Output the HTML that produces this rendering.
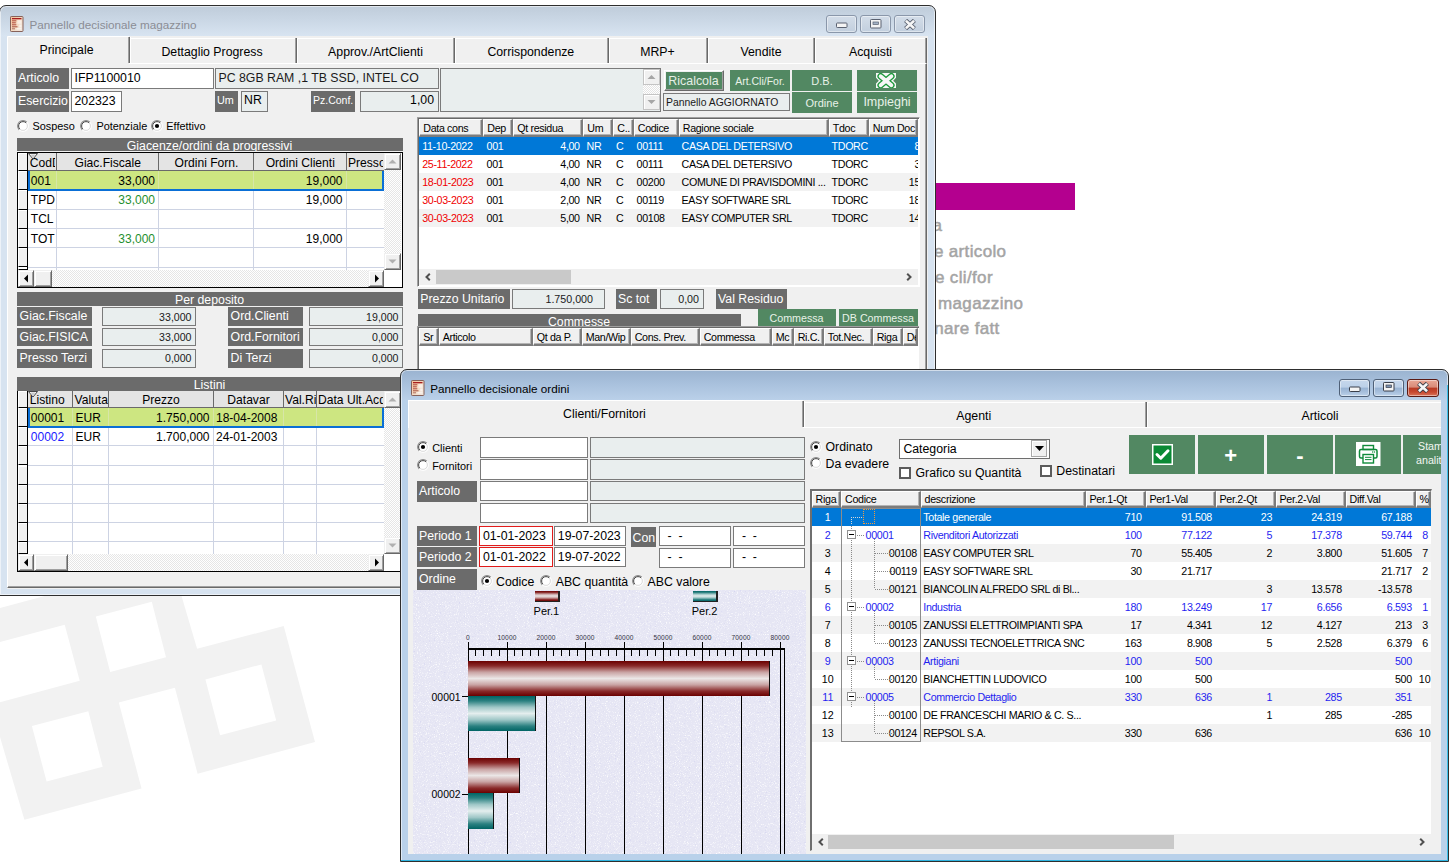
<!DOCTYPE html>
<html><head><meta charset="utf-8"><style>
html,body{margin:0;padding:0;}
body{width:1451px;height:865px;position:relative;overflow:hidden;background:#fff;font-family:"Liberation Sans", sans-serif;}
div{position:absolute;box-sizing:border-box;}
svg{position:absolute;}
</style></head><body>
<svg style="left:0;top:0" width="1451" height="865" viewBox="0 0 1451 865"><path fill="#f2f2f2" fill-rule="evenodd" d="M-83.3,630.4 L171.5,561.9 L197.1,648.8 L283.7,626.1 L315.0,742.1 L197.6,773.7 L174.9,687.7 L118.8,702.4 L141.5,788.4 L24.4,819.8 L-27.8,642.7 Z M-55.5,656.9 L64.7,624.7 L79.7,680.8 L-55.5,717.1 Z M95.8,616.4 L151.8,601.7 L166.0,657.2 L110.2,671.9 Z M31.9,726.0 L88.3,711.3 L102.7,766.8 L46.6,781.5 Z M205.4,679.4 L261.4,664.4 L276.2,720.4 L220.1,735.2 Z"/></svg><div style="left:900px;top:183px;width:175px;height:27px;background:#b4008f"></div><div style="left:42.4px;top:214px;width:900px;height:24px;line-height:24px;font-size:17px;color:#a4a4a4;text-align:right;white-space:pre;font-weight:400;letter-spacing:0.35px;-webkit-text-stroke:0.5px #a4a4a4">Stampa</div><div style="left:106.4px;top:240px;width:900px;height:24px;line-height:24px;font-size:17px;color:#a4a4a4;text-align:right;white-space:pre;font-weight:400;letter-spacing:0.35px;-webkit-text-stroke:0.5px #a4a4a4">Situazione articolo</div><div style="left:92.9px;top:266px;width:900px;height:24px;line-height:24px;font-size:17px;color:#a4a4a4;text-align:right;white-space:pre;font-weight:400;letter-spacing:0.35px;-webkit-text-stroke:0.5px #a4a4a4">Situazione cli/for</div><div style="left:123.4px;top:292px;width:900px;height:24px;line-height:24px;font-size:17px;color:#a4a4a4;text-align:right;white-space:pre;font-weight:400;letter-spacing:0.35px;-webkit-text-stroke:0.5px #a4a4a4">Riordino magazzino</div><div style="left:99.7px;top:317px;width:900px;height:24px;line-height:24px;font-size:17px;color:#a4a4a4;text-align:right;white-space:pre;font-weight:400;letter-spacing:0.35px;-webkit-text-stroke:0.5px #a4a4a4">Selezionare fatt</div><div style="left:-1px;top:5px;width:937px;height:591px;background:linear-gradient(#bfccda 0px, #cad7e5 14px, #d8e4f1 30px, #d7e3f0 31px, #d7e3f0 100%);border:1px solid #2e2e2e;border-radius:7px 7px 0 0;box-shadow:inset 0 0 0 1px rgba(255,255,255,0.55)"></div><svg style="left:10px;top:16px" width="14" height="16" viewBox="0 0 14 16"><defs><linearGradient id="ig" x1="0" y1="0" x2="1" y2="1"><stop offset="0" stop-color="#f6c096"/><stop offset="0.6" stop-color="#f3dcc8"/><stop offset="1" stop-color="#efe6e0"/></linearGradient></defs><rect x="0.5" y="0.5" width="12.5" height="15" rx="0.8" fill="url(#ig)" stroke="#86625a" stroke-width="1"/><rect x="2" y="2" width="9.5" height="1.3" fill="#a81e1e"/><rect x="2" y="4.3" width="4.3" height="1" fill="#b04a3c"/><rect x="2" y="6.3" width="3.8" height="1" fill="#b04a3c"/><rect x="2" y="8.3" width="4.3" height="1" fill="#b04a3c"/><rect x="2" y="10.3" width="5.5" height="1" fill="#a8503c"/><rect x="2" y="12.3" width="3" height="1" fill="#b07060"/><rect x="7.3" y="4.2" width="4.2" height="3.6" fill="#fff" opacity="0.55"/><rect x="9.2" y="8.5" width="2.3" height="3" fill="#fff" opacity="0.55"/><rect x="6.5" y="12.2" width="5" height="1.2" fill="#fff" opacity="0.7"/></svg><div style="left:29.5px;top:17px;width:900px;height:16px;line-height:16px;font-size:11.7px;color:#8b8d95;text-align:left;white-space:pre;font-weight:400;">Pannello decisionale magazzino</div><div style="left:826px;top:15px;width:31px;height:18px;background:linear-gradient(#d3dde9 0%, #cbd6e3 50%, #c2cfdf 100%);border:1px solid #8a97aa;border-radius:3px;box-shadow:inset 0 0 0 1px rgba(255,255,255,0.45)"></div><svg style="left:835.5px;top:22.0px" width="12" height="7" viewBox="0 0 12 7"><rect x="0.5" y="1" width="10.5" height="4.5" rx="0.8" fill="#f4f4f4" stroke="#5a6170" stroke-width="1"/></svg><div style="left:860px;top:15px;width:31px;height:18px;background:linear-gradient(#d3dde9 0%, #cbd6e3 50%, #c2cfdf 100%);border:1px solid #8a97aa;border-radius:3px;box-shadow:inset 0 0 0 1px rgba(255,255,255,0.45)"></div><svg style="left:869.5px;top:18.5px" width="12" height="10" viewBox="0 0 12 10"><rect x="0.5" y="0.5" width="10.5" height="8.5" rx="0.8" fill="#f4f4f4" stroke="#5a6170" stroke-width="1"/><rect x="3" y="3" width="5.5" height="2.6" fill="#a4b2c6" stroke="#5a6170" stroke-width="0.7"/></svg><div style="left:894px;top:15px;width:31px;height:18px;background:linear-gradient(#d3dde9 0%, #cbd6e3 50%, #c2cfdf 100%);border:1px solid #8a97aa;border-radius:3px;box-shadow:inset 0 0 0 1px rgba(255,255,255,0.45)"></div><svg style="left:902.5px;top:18.5px" width="14" height="11" viewBox="0 0 14 11"><path d="M2.6,1.4 L11.4,9.6 M11.4,1.4 L2.6,9.6" stroke="#5a6170" stroke-width="4.4" stroke-linecap="butt"/><path d="M2.9,1.7 L11.1,9.3 M11.1,1.7 L2.9,9.3" stroke="#f6f6f6" stroke-width="2.6" stroke-linecap="butt"/></svg><div style="left:7px;top:36px;width:921px;height:553px;background:#f0f0f0"></div><div style="left:7px;top:63px;width:920px;height:525px;border-top:1px solid #fff;border-left:1px solid #fff;border-right:1px solid #696969;border-bottom:1px solid #696969;box-shadow:inset -1px -1px 0 #a0a0a0"></div><div style="left:7px;top:36px;width:122px;height:28px;background:#f0f0f0;border-top:1px solid #fff;border-left:1px solid #fff;border-radius:2px 0 0 0"></div><div style="left:129px;top:38px;width:797px;height:25px;border-top:1px solid #fff"></div><div style="left:128px;top:37px;width:1px;height:26px;background:#a0a0a0"></div><div style="left:129px;top:37px;width:1px;height:26px;background:#696969"></div><div style="left:130px;top:37px;width:1px;height:26px;background:#fff"></div><div style="left:295px;top:38px;width:1px;height:25px;background:#a0a0a0"></div><div style="left:296px;top:38px;width:1px;height:25px;background:#696969"></div><div style="left:297px;top:38px;width:1px;height:25px;background:#fff"></div><div style="left:453px;top:38px;width:1px;height:25px;background:#a0a0a0"></div><div style="left:454px;top:38px;width:1px;height:25px;background:#696969"></div><div style="left:455px;top:38px;width:1px;height:25px;background:#fff"></div><div style="left:607px;top:38px;width:1px;height:25px;background:#a0a0a0"></div><div style="left:608px;top:38px;width:1px;height:25px;background:#696969"></div><div style="left:609px;top:38px;width:1px;height:25px;background:#fff"></div><div style="left:706px;top:38px;width:1px;height:25px;background:#a0a0a0"></div><div style="left:707px;top:38px;width:1px;height:25px;background:#696969"></div><div style="left:708px;top:38px;width:1px;height:25px;background:#fff"></div><div style="left:813px;top:38px;width:1px;height:25px;background:#a0a0a0"></div><div style="left:814px;top:38px;width:1px;height:25px;background:#696969"></div><div style="left:815px;top:38px;width:1px;height:25px;background:#fff"></div><div style="left:925px;top:38px;width:1px;height:25px;background:#a0a0a0"></div><div style="left:926px;top:38px;width:1px;height:25px;background:#696969"></div><div style="left:-383.5px;top:42px;width:900px;height:17px;line-height:17px;font-size:12.3px;color:#000;text-align:center;white-space:pre;font-weight:400;">Principale</div><div style="left:-238.0px;top:44px;width:900px;height:17px;line-height:17px;font-size:12.3px;color:#000;text-align:center;white-space:pre;font-weight:400;">Dettaglio Progress</div><div style="left:-74.5px;top:44px;width:900px;height:17px;line-height:17px;font-size:12.3px;color:#000;text-align:center;white-space:pre;font-weight:400;">Approv./ArtClienti</div><div style="left:80.8px;top:44px;width:900px;height:17px;line-height:17px;font-size:12.3px;color:#000;text-align:center;white-space:pre;font-weight:400;">Corrispondenze</div><div style="left:207.5px;top:44px;width:900px;height:17px;line-height:17px;font-size:12.3px;color:#000;text-align:center;white-space:pre;font-weight:400;">MRP+</div><div style="left:311.0px;top:44px;width:900px;height:17px;line-height:17px;font-size:12.3px;color:#000;text-align:center;white-space:pre;font-weight:400;">Vendite</div><div style="left:420.5px;top:44px;width:900px;height:17px;line-height:17px;font-size:12.3px;color:#000;text-align:center;white-space:pre;font-weight:400;">Acquisti</div><div style="left:16px;top:68px;width:53px;height:21px;background:#6b6b6b"></div><div style="left:18px;top:70px;width:900px;height:17px;line-height:17px;font-size:12.3px;color:#fff;text-align:left;white-space:pre;font-weight:400;">Articolo</div><div style="left:71px;top:68px;width:143px;height:21px;background:#fff;border:1px solid #7a7a7a"></div><div style="left:74.5px;top:70px;width:900px;height:17px;line-height:17px;font-size:12.3px;color:#000;text-align:left;white-space:pre;font-weight:400;">IFP1100010</div><div style="left:215px;top:68px;width:224px;height:21px;background:#e9eeee;border:1px solid #7a7a7a"></div><div style="left:218.5px;top:70px;width:900px;height:17px;line-height:17px;font-size:12.3px;color:#1a1a1a;text-align:left;white-space:pre;font-weight:400;">PC 8GB RAM ,1 TB SSD, INTEL CO</div><div style="left:16px;top:91px;width:53px;height:21px;background:#6b6b6b"></div><div style="left:18px;top:93px;width:900px;height:17px;line-height:17px;font-size:12.3px;color:#fff;text-align:left;white-space:pre;font-weight:400;">Esercizio</div><div style="left:71px;top:91px;width:51px;height:21px;background:#fff;border:1px solid #7a7a7a"></div><div style="left:74.5px;top:93px;width:900px;height:17px;line-height:17px;font-size:12.3px;color:#000;text-align:left;white-space:pre;font-weight:400;">202323</div><div style="left:215px;top:91px;width:23px;height:21px;background:#6b6b6b"></div><div style="left:217px;top:93px;width:900px;height:15px;line-height:15px;font-size:10.8px;color:#fff;text-align:left;white-space:pre;font-weight:400;">Um</div><div style="left:241px;top:91px;width:27px;height:21px;background:#e9eeee;border:1px solid #7a7a7a"></div><div style="left:244px;top:92px;width:900px;height:17px;line-height:17px;font-size:12.3px;color:#000;text-align:left;white-space:pre;font-weight:400;">NR</div><div style="left:311px;top:91px;width:44px;height:21px;background:#6b6b6b"></div><div style="left:313px;top:93px;width:900px;height:15px;line-height:15px;font-size:10.5px;color:#fff;text-align:left;white-space:pre;font-weight:400;">Pz.Conf.</div><div style="left:360px;top:91px;width:79px;height:21px;background:#e9eeee;border:1px solid #7a7a7a"></div><div style="left:-466px;top:92px;width:900px;height:17px;line-height:17px;font-size:12.3px;color:#000;text-align:right;white-space:pre;font-weight:400;">1,00</div><div style="left:440px;top:68px;width:221px;height:44px;background:#e9eeee;border:1px solid #7a7a7a"></div><div style="left:643px;top:85px;width:17px;height:9px;background-color:#f4f4f4;background-image:repeating-conic-gradient(#fff 0 25%, #e4e4e4 0 50%);background-size:2px 2px"></div><div style="left:643px;top:69px;width:17px;height:16px;background:#f0f0f0;border:1px solid #c4c4c4;box-shadow:inset 1px 1px 0 #fff"></div><div style="left:643px;top:94px;width:17px;height:16px;background:#f0f0f0;border:1px solid #c4c4c4;box-shadow:inset 1px 1px 0 #fff"></div><svg style="left:647px;top:74px" width="9" height="6"><path d="M0.5,5 L4.5,1 L8.5,5 Z" fill="#a6a6a6"/></svg><svg style="left:647px;top:99px" width="9" height="6"><path d="M0.5,1 L4.5,5 L8.5,1 Z" fill="#a6a6a6"/></svg><div style="left:664px;top:70px;width:60px;height:20.5px;background:#528862;border-top:1px solid #fff;border-left:1px solid #fff;border-right:1px solid #6a6a6a;border-bottom:1px solid #6a6a6a;box-shadow:inset -1px -1px 0 #a0a0a0, inset 1px 1px 0 #f0f0f0"></div><div style="left:243.5px;top:73px;width:900px;height:17px;line-height:17px;font-size:12.4px;color:#e6efe6;text-align:center;white-space:pre;font-weight:400;">Ricalcola</div><div style="left:730px;top:70px;width:60px;height:20.5px;background:#528862"></div><div style="left:310.0px;top:74px;width:900px;height:15px;line-height:15px;font-size:10.5px;color:#e8f2e8;text-align:center;white-space:pre;font-weight:400;">Art.Cli/For.</div><div style="left:792px;top:70px;width:60px;height:20.5px;background:#528862"></div><div style="left:372.0px;top:74px;width:900px;height:15px;line-height:15px;font-size:11px;color:#e8f2e8;text-align:center;white-space:pre;font-weight:400;">D.B.</div><div style="left:857px;top:70px;width:60px;height:20.5px;background:#528862"></div><svg style="left:876px;top:72.8px" width="20" height="15.5" viewBox="0 0 20 15.5"><path d="M0,0 L20,0 L20,4.8 L17.2,7.7 L20,10.6 L20,15.5 L0,15.5 L0,10.6 L2.8,7.7 L0,4.8 Z" fill="#f6f6f6"/><path d="M4.6,3.2 L15.4,12.3 M15.4,3.2 L4.6,12.3" stroke="#1c9a3c" stroke-width="6.4" stroke-linecap="round"/><path d="M4.6,3.2 L15.4,12.3 M15.4,3.2 L4.6,12.3" stroke="#f6f6f6" stroke-width="3.8" stroke-linecap="round"/></svg><div style="left:663px;top:93px;width:126.5px;height:18px;background:#e9eeee;border:1px solid #7a7a7a"></div><div style="left:666px;top:95px;width:900px;height:15px;line-height:15px;font-size:10.4px;color:#1a1a1a;text-align:left;white-space:pre;font-weight:400;">Pannello AGGIORNATO</div><div style="left:792px;top:92px;width:60px;height:20.5px;background:#528862"></div><div style="left:372.0px;top:96px;width:900px;height:15px;line-height:15px;font-size:11px;color:#e8f2e8;text-align:center;white-space:pre;font-weight:400;">Ordine</div><div style="left:857px;top:92px;width:60px;height:20.5px;background:#528862"></div><div style="left:437.0px;top:93px;width:900px;height:18px;line-height:18px;font-size:12.5px;color:#e8f2e8;text-align:center;white-space:pre;font-weight:400;">Impieghi</div><svg style="left:16.7px;top:120px" width="12" height="12" viewBox="0 0 12 12"><circle cx="6" cy="6" r="4.5" fill="#fff"/><path d="M2.18166,9.81834 A5.4,5.4 0 0 1 9.81834,2.18166" fill="none" stroke="#8a8a8a" stroke-width="1.1"/><path d="M9.81834,2.18166 A5.4,5.4 0 0 1 2.18166,9.81834" fill="none" stroke="#fdfdfd" stroke-width="1.1"/><path d="M2.88876,9.11124 A4.4,4.4 0 0 1 9.11124,2.88876" fill="none" stroke="#4a4a4a" stroke-width="1.0"/><path d="M9.11124,2.88876 A4.4,4.4 0 0 1 2.88876,9.11124" fill="none" stroke="#dcdcdc" stroke-width="1.0"/></svg><div style="left:32.4px;top:119px;width:900px;height:15px;line-height:15px;font-size:10.9px;color:#000;text-align:left;white-space:pre;font-weight:400;">Sospeso</div><svg style="left:80.4px;top:120px" width="12" height="12" viewBox="0 0 12 12"><circle cx="6" cy="6" r="4.5" fill="#fff"/><path d="M2.18166,9.81834 A5.4,5.4 0 0 1 9.81834,2.18166" fill="none" stroke="#8a8a8a" stroke-width="1.1"/><path d="M9.81834,2.18166 A5.4,5.4 0 0 1 2.18166,9.81834" fill="none" stroke="#fdfdfd" stroke-width="1.1"/><path d="M2.88876,9.11124 A4.4,4.4 0 0 1 9.11124,2.88876" fill="none" stroke="#4a4a4a" stroke-width="1.0"/><path d="M9.11124,2.88876 A4.4,4.4 0 0 1 2.88876,9.11124" fill="none" stroke="#dcdcdc" stroke-width="1.0"/></svg><div style="left:96.4px;top:119px;width:900px;height:15px;line-height:15px;font-size:10.9px;color:#000;text-align:left;white-space:pre;font-weight:400;">Potenziale</div><svg style="left:150.6px;top:120px" width="12" height="12" viewBox="0 0 12 12"><circle cx="6" cy="6" r="4.5" fill="#fff"/><path d="M2.18166,9.81834 A5.4,5.4 0 0 1 9.81834,2.18166" fill="none" stroke="#8a8a8a" stroke-width="1.1"/><path d="M9.81834,2.18166 A5.4,5.4 0 0 1 2.18166,9.81834" fill="none" stroke="#fdfdfd" stroke-width="1.1"/><path d="M2.88876,9.11124 A4.4,4.4 0 0 1 9.11124,2.88876" fill="none" stroke="#4a4a4a" stroke-width="1.0"/><path d="M9.11124,2.88876 A4.4,4.4 0 0 1 2.88876,9.11124" fill="none" stroke="#dcdcdc" stroke-width="1.0"/><circle cx="6" cy="6" r="2.1" fill="#000"/></svg><div style="left:166.3px;top:119px;width:900px;height:15px;line-height:15px;font-size:10.9px;color:#000;text-align:left;white-space:pre;font-weight:400;">Effettivo</div><div style="left:17px;top:138px;width:386px;height:12.7px;background:#6b6b6b"></div><div style="left:19px;top:137px;width:900px;height:17px;line-height:17px;font-size:12.3px;color:#fff;text-align:left;white-space:pre;font-weight:400;"></div><div style="left:17px;top:138px;width:386px;height:12.7px;overflow:hidden"><div style="left:-257.5px;top:0px;width:900px;height:17px;line-height:17px;font-size:12.3px;color:#fff;text-align:center;white-space:pre;font-weight:400;">Giacenze/ordini da progressivi</div></div><div style="left:17px;top:152px;width:386px;height:136px;background:#fff;border:1px solid #000"></div><div style="left:28.3px;top:153px;width:355.7px;height:18px;background:#e4e4e4"></div><div style="left:55.5px;top:153px;width:1px;height:18px;background:#6a6a6a"></div><div style="left:158px;top:153px;width:1px;height:18px;background:#6a6a6a"></div><div style="left:253px;top:153px;width:1px;height:18px;background:#6a6a6a"></div><div style="left:345.5px;top:153px;width:1px;height:18px;background:#6a6a6a"></div><div style="left:28.3px;top:170px;width:355.7px;height:1px;background:#6a6a6a"></div><div style="left:18px;top:153px;width:9.3px;height:18px;background:#f0f0f0;border-top:1px solid #fff;border-left:1px solid #fff;border-bottom:1px solid #000"></div><div style="left:27.3px;top:153px;width:1px;height:117px;background:#000"></div><div style="left:18px;top:171px;width:9.3px;height:19.30000000000001px;background:#f0f0f0;border-top:1px solid #fff;border-left:1px solid #fff;border-bottom:1px solid #000"></div><div style="left:18px;top:190.3px;width:9.3px;height:19.299999999999983px;background:#f0f0f0;border-top:1px solid #fff;border-left:1px solid #fff;border-bottom:1px solid #000"></div><div style="left:18px;top:209.6px;width:9.3px;height:19.30000000000001px;background:#f0f0f0;border-top:1px solid #fff;border-left:1px solid #fff;border-bottom:1px solid #000"></div><div style="left:18px;top:228.9px;width:9.3px;height:19.299999999999983px;background:#f0f0f0;border-top:1px solid #fff;border-left:1px solid #fff;border-bottom:1px solid #000"></div><div style="left:18px;top:248.2px;width:9.3px;height:19.30000000000001px;background:#f0f0f0;border-top:1px solid #fff;border-left:1px solid #fff;border-bottom:1px solid #000"></div><div style="left:18px;top:267.5px;width:9.3px;height:2.5px;background:#f0f0f0;border-top:1px solid #fff;border-left:1px solid #fff;border-bottom:1px solid #000"></div><div style="left:55.5px;top:171px;width:1px;height:99px;background:#cdd3e3"></div><div style="left:158px;top:171px;width:1px;height:99px;background:#cdd3e3"></div><div style="left:253px;top:171px;width:1px;height:99px;background:#cdd3e3"></div><div style="left:345.5px;top:171px;width:1px;height:99px;background:#cdd3e3"></div><div style="left:28.3px;top:189.3px;width:355.7px;height:1px;background:#cdd3e3"></div><div style="left:28.3px;top:208.6px;width:355.7px;height:1px;background:#cdd3e3"></div><div style="left:28.3px;top:227.9px;width:355.7px;height:1px;background:#cdd3e3"></div><div style="left:28.3px;top:247.2px;width:355.7px;height:1px;background:#cdd3e3"></div><div style="left:28.3px;top:266.5px;width:355.7px;height:1px;background:#cdd3e3"></div><div style="left:28.3px;top:171px;width:355.7px;height:20.30000000000001px;background:#cde681;border:2px solid #0a6fd6;border-top:none"></div><div style="left:55.5px;top:171px;width:1px;height:18.30000000000001px;background:#d7e6a8"></div><div style="left:158px;top:171px;width:1px;height:18.30000000000001px;background:#d7e6a8"></div><div style="left:253px;top:171px;width:1px;height:18.30000000000001px;background:#d7e6a8"></div><div style="left:345.5px;top:171px;width:1px;height:18.30000000000001px;background:#d7e6a8"></div><div style="left:28.3px;top:153px;width:27.2px;height:17px;overflow:hidden"><div style="left:1.5px;top:2px;width:900px;height:17px;line-height:17px;font-size:12.1px;color:#000;text-align:left;white-space:pre;font-weight:400;">CodD</div></div><div style="left:56.5px;top:153px;width:101.5px;height:17px;overflow:hidden"><div style="left:-398.75px;top:2px;width:900px;height:17px;line-height:17px;font-size:12.1px;color:#000;text-align:center;white-space:pre;font-weight:400;">Giac.Fiscale</div></div><div style="left:159px;top:153px;width:94px;height:17px;overflow:hidden"><div style="left:-402.5px;top:2px;width:900px;height:17px;line-height:17px;font-size:12.1px;color:#000;text-align:center;white-space:pre;font-weight:400;">Ordini Forn.</div></div><div style="left:254px;top:153px;width:91.5px;height:17px;overflow:hidden"><div style="left:-403.75px;top:2px;width:900px;height:17px;line-height:17px;font-size:12.1px;color:#000;text-align:center;white-space:pre;font-weight:400;">Ordini Clienti</div></div><div style="left:346.5px;top:153px;width:36.5px;height:17px;overflow:hidden"><div style="left:1.5px;top:2px;width:900px;height:17px;line-height:17px;font-size:12.1px;color:#000;text-align:left;white-space:pre;font-weight:400;">Presso</div></div><div style="left:30.8px;top:173px;width:900px;height:17px;line-height:17px;font-size:12px;color:#000;text-align:left;white-space:pre;font-weight:400;">001</div><div style="left:-745px;top:173px;width:900px;height:17px;line-height:17px;font-size:12px;color:#000;text-align:right;white-space:pre;font-weight:400;">33,000</div><div style="left:-557.5px;top:173px;width:900px;height:17px;line-height:17px;font-size:12px;color:#000;text-align:right;white-space:pre;font-weight:400;">19,000</div><div style="left:30.8px;top:192px;width:900px;height:17px;line-height:17px;font-size:12px;color:#000;text-align:left;white-space:pre;font-weight:400;">TPD</div><div style="left:-745px;top:192px;width:900px;height:17px;line-height:17px;font-size:12px;color:#1f8f2f;text-align:right;white-space:pre;font-weight:400;">33,000</div><div style="left:-557.5px;top:192px;width:900px;height:17px;line-height:17px;font-size:12px;color:#000;text-align:right;white-space:pre;font-weight:400;">19,000</div><div style="left:30.8px;top:211px;width:900px;height:17px;line-height:17px;font-size:12px;color:#000;text-align:left;white-space:pre;font-weight:400;">TCL</div><div style="left:30.8px;top:231px;width:900px;height:17px;line-height:17px;font-size:12px;color:#000;text-align:left;white-space:pre;font-weight:400;">TOT</div><div style="left:-745px;top:231px;width:900px;height:17px;line-height:17px;font-size:12px;color:#1f8f2f;text-align:right;white-space:pre;font-weight:400;">33,000</div><div style="left:-557.5px;top:231px;width:900px;height:17px;line-height:17px;font-size:12px;color:#000;text-align:right;white-space:pre;font-weight:400;">19,000</div><svg style="left:28.3px;top:153px" width="10" height="7" viewBox="0 0 10 7"><path d="M0.5,0.5 L9.5,0.5 L5,6 Z" fill="#fff" stroke="#333" stroke-width="0.9"/><path d="M2.5,1.5 L7.5,1.5 L5,4.5 Z" fill="#c8c8c8"/></svg><div style="left:384px;top:153px;width:17px;height:117px;background-color:#f4f4f4;background-image:repeating-conic-gradient(#fff 0 25%, #e6e6e6 0 50%);background-size:2px 2px"></div><div style="left:384px;top:153px;width:17px;height:17px;background:#f0f0f0;border-top:1px solid #f0f0f0;border-left:1px solid #f0f0f0;border-right:1px solid #696969;border-bottom:1px solid #696969;box-shadow:inset 1px 1px 0 #fff, inset -1px -1px 0 #a0a0a0"></div><div style="left:384px;top:253px;width:17px;height:17px;background:#f0f0f0;border-top:1px solid #f0f0f0;border-left:1px solid #f0f0f0;border-right:1px solid #696969;border-bottom:1px solid #696969;box-shadow:inset 1px 1px 0 #fff, inset -1px -1px 0 #a0a0a0"></div><svg style="left:388.0px;top:159px" width="9" height="5"><path d="M0.5,4.5 L4.5,0.5 L8.5,4.5 Z" fill="#b0b0b0"/></svg><svg style="left:388.0px;top:259px" width="9" height="5"><path d="M0.5,0.5 L4.5,4.5 L8.5,0.5 Z" fill="#b0b0b0"/></svg><div style="left:18px;top:270px;width:366px;height:17px;background-color:#f4f4f4;background-image:repeating-conic-gradient(#fff 0 25%, #e6e6e6 0 50%);background-size:2px 2px"></div><div style="left:18px;top:270px;width:16px;height:17px;background:#f0f0f0;border-top:1px solid #f0f0f0;border-left:1px solid #f0f0f0;border-right:1px solid #696969;border-bottom:1px solid #696969;box-shadow:inset 1px 1px 0 #fff, inset -1px -1px 0 #a0a0a0"></div><div style="left:368px;top:270px;width:16px;height:17px;background:#f0f0f0;border-top:1px solid #f0f0f0;border-left:1px solid #f0f0f0;border-right:1px solid #696969;border-bottom:1px solid #696969;box-shadow:inset 1px 1px 0 #fff, inset -1px -1px 0 #a0a0a0"></div><div style="left:34px;top:270px;width:18px;height:17px;background:#f0f0f0;border-top:1px solid #f0f0f0;border-left:1px solid #f0f0f0;border-right:1px solid #696969;border-bottom:1px solid #696969;box-shadow:inset 1px 1px 0 #fff, inset -1px -1px 0 #a0a0a0"></div><svg style="left:23px;top:274.0px" width="6" height="9"><path d="M5,0.5 L1,4.5 L5,8.5 Z" fill="#000"/></svg><svg style="left:374px;top:274.0px" width="6" height="9"><path d="M1,0.5 L5,4.5 L1,8.5 Z" fill="#000"/></svg><div style="left:384px;top:270px;width:17px;height:17px;background:#fff"></div><div style="left:17px;top:292.2px;width:386px;height:13.4px;background:#6b6b6b"></div><div style="left:19px;top:291px;width:900px;height:17px;line-height:17px;font-size:12.3px;color:#fff;text-align:left;white-space:pre;font-weight:400;"></div><div style="left:17px;top:292.2px;width:386px;height:13.4px;overflow:hidden"><div style="left:-257.5px;top:-0.2px;width:900px;height:17px;line-height:17px;font-size:12.3px;color:#fff;text-align:center;white-space:pre;font-weight:400;">Per deposito</div></div><div style="left:17px;top:307px;width:75px;height:19px;background:#6b6b6b"></div><div style="left:19.6px;top:308px;width:900px;height:17px;line-height:17px;font-size:12.3px;color:#fff;text-align:left;white-space:pre;font-weight:400;">Giac.Fiscale</div><div style="left:102px;top:307px;width:94px;height:19px;background:#e9eeee;border:1px solid #7a7a7a"></div><div style="left:-708.5px;top:310px;width:900px;height:15px;line-height:15px;font-size:10.6px;color:#1a1a1a;text-align:right;white-space:pre;font-weight:400;">33,000</div><div style="left:228px;top:307px;width:75px;height:19px;background:#6b6b6b"></div><div style="left:230.6px;top:308px;width:900px;height:17px;line-height:17px;font-size:12.3px;color:#fff;text-align:left;white-space:pre;font-weight:400;">Ord.Clienti</div><div style="left:309px;top:307px;width:94px;height:19px;background:#e9eeee;border:1px solid #7a7a7a"></div><div style="left:-501.5px;top:310px;width:900px;height:15px;line-height:15px;font-size:10.6px;color:#1a1a1a;text-align:right;white-space:pre;font-weight:400;">19,000</div><div style="left:17px;top:327.5px;width:75px;height:18.5px;background:#6b6b6b"></div><div style="left:19.6px;top:329px;width:900px;height:17px;line-height:17px;font-size:12.3px;color:#fff;text-align:left;white-space:pre;font-weight:400;">Giac.FISICA</div><div style="left:102px;top:327.5px;width:94px;height:18.5px;background:#e9eeee;border:1px solid #7a7a7a"></div><div style="left:-708.5px;top:330px;width:900px;height:15px;line-height:15px;font-size:10.6px;color:#1a1a1a;text-align:right;white-space:pre;font-weight:400;">33,000</div><div style="left:228px;top:327.5px;width:75px;height:18.5px;background:#6b6b6b"></div><div style="left:230.6px;top:329px;width:900px;height:17px;line-height:17px;font-size:12.3px;color:#fff;text-align:left;white-space:pre;font-weight:400;">Ord.Fornitori</div><div style="left:309px;top:327.5px;width:94px;height:18.5px;background:#e9eeee;border:1px solid #7a7a7a"></div><div style="left:-501.5px;top:330px;width:900px;height:15px;line-height:15px;font-size:10.6px;color:#1a1a1a;text-align:right;white-space:pre;font-weight:400;">0,000</div><div style="left:17px;top:349px;width:75px;height:18.5px;background:#6b6b6b"></div><div style="left:19.6px;top:350px;width:900px;height:17px;line-height:17px;font-size:12.3px;color:#fff;text-align:left;white-space:pre;font-weight:400;">Presso Terzi</div><div style="left:102px;top:349px;width:94px;height:18.5px;background:#e9eeee;border:1px solid #7a7a7a"></div><div style="left:-708.5px;top:351px;width:900px;height:15px;line-height:15px;font-size:10.6px;color:#1a1a1a;text-align:right;white-space:pre;font-weight:400;">0,000</div><div style="left:228px;top:349px;width:75px;height:18.5px;background:#6b6b6b"></div><div style="left:230.6px;top:350px;width:900px;height:17px;line-height:17px;font-size:12.3px;color:#fff;text-align:left;white-space:pre;font-weight:400;">Di Terzi</div><div style="left:309px;top:349px;width:94px;height:18.5px;background:#e9eeee;border:1px solid #7a7a7a"></div><div style="left:-501.5px;top:351px;width:900px;height:15px;line-height:15px;font-size:10.6px;color:#1a1a1a;text-align:right;white-space:pre;font-weight:400;">0,000</div><div style="left:17px;top:390.4px;width:386px;height:181.60000000000002px;background:#fff;border:1px solid #000"></div><div style="left:28.3px;top:391.4px;width:355.7px;height:16.900000000000034px;background:#e4e4e4"></div><div style="left:72px;top:391.4px;width:1px;height:16.900000000000034px;background:#6a6a6a"></div><div style="left:107.5px;top:391.4px;width:1px;height:16.900000000000034px;background:#6a6a6a"></div><div style="left:212.5px;top:391.4px;width:1px;height:16.900000000000034px;background:#6a6a6a"></div><div style="left:282.5px;top:391.4px;width:1px;height:16.900000000000034px;background:#6a6a6a"></div><div style="left:315.5px;top:391.4px;width:1px;height:16.900000000000034px;background:#6a6a6a"></div><div style="left:28.3px;top:407.3px;width:355.7px;height:1px;background:#6a6a6a"></div><div style="left:18px;top:391.4px;width:9.3px;height:16.900000000000034px;background:#f0f0f0;border-top:1px solid #fff;border-left:1px solid #fff;border-bottom:1px solid #000"></div><div style="left:27.3px;top:391.4px;width:1px;height:162.60000000000002px;background:#000"></div><div style="left:18px;top:408.3px;width:9.3px;height:19.0px;background:#f0f0f0;border-top:1px solid #fff;border-left:1px solid #fff;border-bottom:1px solid #000"></div><div style="left:18px;top:427.3px;width:9.3px;height:19.099999999999966px;background:#f0f0f0;border-top:1px solid #fff;border-left:1px solid #fff;border-bottom:1px solid #000"></div><div style="left:18px;top:446.4px;width:9.3px;height:19.100000000000023px;background:#f0f0f0;border-top:1px solid #fff;border-left:1px solid #fff;border-bottom:1px solid #000"></div><div style="left:18px;top:465.5px;width:9.3px;height:19.100000000000023px;background:#f0f0f0;border-top:1px solid #fff;border-left:1px solid #fff;border-bottom:1px solid #000"></div><div style="left:18px;top:484.6px;width:9.3px;height:19.099999999999966px;background:#f0f0f0;border-top:1px solid #fff;border-left:1px solid #fff;border-bottom:1px solid #000"></div><div style="left:18px;top:503.7px;width:9.3px;height:19.099999999999966px;background:#f0f0f0;border-top:1px solid #fff;border-left:1px solid #fff;border-bottom:1px solid #000"></div><div style="left:18px;top:522.8px;width:9.3px;height:19.100000000000023px;background:#f0f0f0;border-top:1px solid #fff;border-left:1px solid #fff;border-bottom:1px solid #000"></div><div style="left:18px;top:541.9px;width:9.3px;height:12.100000000000023px;background:#f0f0f0;border-top:1px solid #fff;border-left:1px solid #fff;border-bottom:1px solid #000"></div><div style="left:72px;top:408.3px;width:1px;height:145.7px;background:#cdd3e3"></div><div style="left:107.5px;top:408.3px;width:1px;height:145.7px;background:#cdd3e3"></div><div style="left:212.5px;top:408.3px;width:1px;height:145.7px;background:#cdd3e3"></div><div style="left:282.5px;top:408.3px;width:1px;height:145.7px;background:#cdd3e3"></div><div style="left:315.5px;top:408.3px;width:1px;height:145.7px;background:#cdd3e3"></div><div style="left:28.3px;top:426.3px;width:355.7px;height:1px;background:#cdd3e3"></div><div style="left:28.3px;top:445.4px;width:355.7px;height:1px;background:#cdd3e3"></div><div style="left:28.3px;top:464.5px;width:355.7px;height:1px;background:#cdd3e3"></div><div style="left:28.3px;top:483.6px;width:355.7px;height:1px;background:#cdd3e3"></div><div style="left:28.3px;top:502.7px;width:355.7px;height:1px;background:#cdd3e3"></div><div style="left:28.3px;top:521.8px;width:355.7px;height:1px;background:#cdd3e3"></div><div style="left:28.3px;top:540.9px;width:355.7px;height:1px;background:#cdd3e3"></div><div style="left:28.3px;top:408.3px;width:355.7px;height:20.0px;background:#cde681;border:2px solid #0a6fd6;border-top:none"></div><div style="left:72px;top:408.3px;width:1px;height:18.0px;background:#d7e6a8"></div><div style="left:107.5px;top:408.3px;width:1px;height:18.0px;background:#d7e6a8"></div><div style="left:212.5px;top:408.3px;width:1px;height:18.0px;background:#d7e6a8"></div><div style="left:282.5px;top:408.3px;width:1px;height:18.0px;background:#d7e6a8"></div><div style="left:315.5px;top:408.3px;width:1px;height:18.0px;background:#d7e6a8"></div><div style="left:28.3px;top:391.4px;width:43.7px;height:15.900000000000034px;overflow:hidden"><div style="left:1.5px;top:0.6px;width:900px;height:17px;line-height:17px;font-size:12.1px;color:#000;text-align:left;white-space:pre;font-weight:400;">Listino</div></div><div style="left:73px;top:391.4px;width:34.5px;height:15.900000000000034px;overflow:hidden"><div style="left:1.5px;top:0.6px;width:900px;height:17px;line-height:17px;font-size:12.1px;color:#000;text-align:left;white-space:pre;font-weight:400;">Valuta</div></div><div style="left:108.5px;top:391.4px;width:104.0px;height:15.900000000000034px;overflow:hidden"><div style="left:-397.5px;top:0.6px;width:900px;height:17px;line-height:17px;font-size:12.1px;color:#000;text-align:center;white-space:pre;font-weight:400;">Prezzo</div></div><div style="left:213.5px;top:391.4px;width:69.0px;height:15.900000000000034px;overflow:hidden"><div style="left:-415.0px;top:0.6px;width:900px;height:17px;line-height:17px;font-size:12.1px;color:#000;text-align:center;white-space:pre;font-weight:400;">Datavar</div></div><div style="left:283.5px;top:391.4px;width:32.0px;height:15.900000000000034px;overflow:hidden"><div style="left:1.5px;top:0.6px;width:900px;height:17px;line-height:17px;font-size:12.1px;color:#000;text-align:left;white-space:pre;font-weight:400;">Val.Ri</div></div><div style="left:316.5px;top:391.4px;width:66.5px;height:15.900000000000034px;overflow:hidden"><div style="left:1.5px;top:0.6px;width:900px;height:17px;line-height:17px;font-size:12.1px;color:#000;text-align:left;white-space:pre;font-weight:400;">Data Ult.Acq</div></div><div style="left:30.8px;top:410px;width:900px;height:17px;line-height:17px;font-size:12px;color:#000;text-align:left;white-space:pre;font-weight:400;">00001</div><div style="left:75.5px;top:410px;width:900px;height:17px;line-height:17px;font-size:12px;color:#000;text-align:left;white-space:pre;font-weight:400;">EUR</div><div style="left:-690.5px;top:410px;width:900px;height:17px;line-height:17px;font-size:12px;color:#000;text-align:right;white-space:pre;font-weight:400;">1.750,000</div><div style="left:216.0px;top:410px;width:900px;height:17px;line-height:17px;font-size:12px;color:#000;text-align:left;white-space:pre;font-weight:400;">18-04-2008</div><div style="left:30.8px;top:429px;width:900px;height:17px;line-height:17px;font-size:12px;color:#1a1aff;text-align:left;white-space:pre;font-weight:400;">00002</div><div style="left:75.5px;top:429px;width:900px;height:17px;line-height:17px;font-size:12px;color:#000;text-align:left;white-space:pre;font-weight:400;">EUR</div><div style="left:-690.5px;top:429px;width:900px;height:17px;line-height:17px;font-size:12px;color:#000;text-align:right;white-space:pre;font-weight:400;">1.700,000</div><div style="left:216.0px;top:429px;width:900px;height:17px;line-height:17px;font-size:12px;color:#000;text-align:left;white-space:pre;font-weight:400;">24-01-2003</div><svg style="left:28.3px;top:391.4px" width="10" height="7" viewBox="0 0 10 7"><path d="M0.5,0.5 L9.5,0.5 L5,6 Z" fill="#fff" stroke="#333" stroke-width="0.9"/><path d="M2.5,1.5 L7.5,1.5 L5,4.5 Z" fill="#c8c8c8"/></svg><div style="left:384px;top:391.4px;width:17px;height:162.60000000000002px;background-color:#f4f4f4;background-image:repeating-conic-gradient(#fff 0 25%, #e6e6e6 0 50%);background-size:2px 2px"></div><div style="left:384px;top:391.4px;width:17px;height:17px;background:#f0f0f0;border-top:1px solid #f0f0f0;border-left:1px solid #f0f0f0;border-right:1px solid #696969;border-bottom:1px solid #696969;box-shadow:inset 1px 1px 0 #fff, inset -1px -1px 0 #a0a0a0"></div><div style="left:384px;top:537.0px;width:17px;height:17px;background:#f0f0f0;border-top:1px solid #f0f0f0;border-left:1px solid #f0f0f0;border-right:1px solid #696969;border-bottom:1px solid #696969;box-shadow:inset 1px 1px 0 #fff, inset -1px -1px 0 #a0a0a0"></div><svg style="left:388.0px;top:397.4px" width="9" height="5"><path d="M0.5,4.5 L4.5,0.5 L8.5,4.5 Z" fill="#b0b0b0"/></svg><svg style="left:388.0px;top:543.0px" width="9" height="5"><path d="M0.5,0.5 L4.5,4.5 L8.5,0.5 Z" fill="#b0b0b0"/></svg><div style="left:18px;top:554px;width:366px;height:17px;background-color:#f4f4f4;background-image:repeating-conic-gradient(#fff 0 25%, #e6e6e6 0 50%);background-size:2px 2px"></div><div style="left:18px;top:554px;width:16px;height:17px;background:#f0f0f0;border-top:1px solid #f0f0f0;border-left:1px solid #f0f0f0;border-right:1px solid #696969;border-bottom:1px solid #696969;box-shadow:inset 1px 1px 0 #fff, inset -1px -1px 0 #a0a0a0"></div><div style="left:368px;top:554px;width:16px;height:17px;background:#f0f0f0;border-top:1px solid #f0f0f0;border-left:1px solid #f0f0f0;border-right:1px solid #696969;border-bottom:1px solid #696969;box-shadow:inset 1px 1px 0 #fff, inset -1px -1px 0 #a0a0a0"></div><div style="left:34px;top:554px;width:34px;height:17px;background:#f0f0f0;border-top:1px solid #f0f0f0;border-left:1px solid #f0f0f0;border-right:1px solid #696969;border-bottom:1px solid #696969;box-shadow:inset 1px 1px 0 #fff, inset -1px -1px 0 #a0a0a0"></div><svg style="left:23px;top:558.0px" width="6" height="9"><path d="M5,0.5 L1,4.5 L5,8.5 Z" fill="#000"/></svg><svg style="left:374px;top:558.0px" width="6" height="9"><path d="M1,0.5 L5,4.5 L1,8.5 Z" fill="#000"/></svg><div style="left:384px;top:554px;width:17px;height:17px;background:#fff"></div><div style="left:17px;top:377px;width:386px;height:14.4px;background:#6b6b6b"></div><div style="left:19px;top:377px;width:900px;height:17px;line-height:17px;font-size:12.3px;color:#fff;text-align:left;white-space:pre;font-weight:400;"></div><div style="left:17px;top:377px;width:386px;height:14.4px;overflow:hidden"><div style="left:-257.5px;top:0px;width:900px;height:17px;line-height:17px;font-size:12.3px;color:#fff;text-align:center;white-space:pre;font-weight:400;">Listini</div></div><div style="left:417px;top:117px;width:502.5px;height:169.5px;background:#fff;border-top:1px solid #a0a0a0;border-left:1px solid #a0a0a0;border-right:1px solid #fff;border-bottom:1px solid #fff;box-shadow:inset 1px 1px 0 #696969"></div><div style="left:419px;top:119px;width:64px;height:17.5px;background:#f0f0f0;border-top:1px solid #fff;border-left:1px solid #fff;border-right:2px solid #7c7c7c;border-bottom:2px solid #7c7c7c;box-shadow:inset -1px -1px 0 #b4b4b4"></div><div style="left:419px;top:119px;width:62px;height:16px;overflow:hidden"><div style="left:4.3px;top:2px;width:900px;height:15px;line-height:15px;font-size:10.7px;color:#000;text-align:left;white-space:pre;font-weight:400;letter-spacing:-0.35px">Data cons</div></div><div style="left:483px;top:119px;width:30px;height:17.5px;background:#f0f0f0;border-top:1px solid #fff;border-left:1px solid #fff;border-right:2px solid #7c7c7c;border-bottom:2px solid #7c7c7c;box-shadow:inset -1px -1px 0 #b4b4b4"></div><div style="left:483px;top:119px;width:28px;height:16px;overflow:hidden"><div style="left:4.3px;top:2px;width:900px;height:15px;line-height:15px;font-size:10.7px;color:#000;text-align:left;white-space:pre;font-weight:400;letter-spacing:-0.35px">Dep</div></div><div style="left:513px;top:119px;width:70px;height:17.5px;background:#f0f0f0;border-top:1px solid #fff;border-left:1px solid #fff;border-right:2px solid #7c7c7c;border-bottom:2px solid #7c7c7c;box-shadow:inset -1px -1px 0 #b4b4b4"></div><div style="left:513px;top:119px;width:68px;height:16px;overflow:hidden"><div style="left:4.3px;top:2px;width:900px;height:15px;line-height:15px;font-size:10.7px;color:#000;text-align:left;white-space:pre;font-weight:400;letter-spacing:-0.35px">Qt residua</div></div><div style="left:583px;top:119px;width:30px;height:17.5px;background:#f0f0f0;border-top:1px solid #fff;border-left:1px solid #fff;border-right:2px solid #7c7c7c;border-bottom:2px solid #7c7c7c;box-shadow:inset -1px -1px 0 #b4b4b4"></div><div style="left:583px;top:119px;width:28px;height:16px;overflow:hidden"><div style="left:4.3px;top:2px;width:900px;height:15px;line-height:15px;font-size:10.7px;color:#000;text-align:left;white-space:pre;font-weight:400;letter-spacing:-0.35px">Um</div></div><div style="left:613px;top:119px;width:20.5px;height:17.5px;background:#f0f0f0;border-top:1px solid #fff;border-left:1px solid #fff;border-right:2px solid #7c7c7c;border-bottom:2px solid #7c7c7c;box-shadow:inset -1px -1px 0 #b4b4b4"></div><div style="left:613px;top:119px;width:18.5px;height:16px;overflow:hidden"><div style="left:4.3px;top:2px;width:900px;height:15px;line-height:15px;font-size:10.7px;color:#000;text-align:left;white-space:pre;font-weight:400;letter-spacing:-0.35px">C..</div></div><div style="left:633.5px;top:119px;width:45.0px;height:17.5px;background:#f0f0f0;border-top:1px solid #fff;border-left:1px solid #fff;border-right:2px solid #7c7c7c;border-bottom:2px solid #7c7c7c;box-shadow:inset -1px -1px 0 #b4b4b4"></div><div style="left:633.5px;top:119px;width:43.0px;height:16px;overflow:hidden"><div style="left:4.3px;top:2px;width:900px;height:15px;line-height:15px;font-size:10.7px;color:#000;text-align:left;white-space:pre;font-weight:400;letter-spacing:-0.35px">Codice</div></div><div style="left:678.5px;top:119px;width:150.0px;height:17.5px;background:#f0f0f0;border-top:1px solid #fff;border-left:1px solid #fff;border-right:2px solid #7c7c7c;border-bottom:2px solid #7c7c7c;box-shadow:inset -1px -1px 0 #b4b4b4"></div><div style="left:678.5px;top:119px;width:148.0px;height:16px;overflow:hidden"><div style="left:4.3px;top:2px;width:900px;height:15px;line-height:15px;font-size:10.7px;color:#000;text-align:left;white-space:pre;font-weight:400;letter-spacing:-0.35px">Ragione sociale</div></div><div style="left:828.5px;top:119px;width:40.0px;height:17.5px;background:#f0f0f0;border-top:1px solid #fff;border-left:1px solid #fff;border-right:2px solid #7c7c7c;border-bottom:2px solid #7c7c7c;box-shadow:inset -1px -1px 0 #b4b4b4"></div><div style="left:828.5px;top:119px;width:38.0px;height:16px;overflow:hidden"><div style="left:4.3px;top:2px;width:900px;height:15px;line-height:15px;font-size:10.7px;color:#000;text-align:left;white-space:pre;font-weight:400;letter-spacing:-0.35px">Tdoc</div></div><div style="left:868.5px;top:119px;width:49.0px;height:17.5px;background:#f0f0f0;border-top:1px solid #fff;border-left:1px solid #fff;border-right:2px solid #7c7c7c;border-bottom:2px solid #7c7c7c;box-shadow:inset -1px -1px 0 #b4b4b4"></div><div style="left:868.5px;top:119px;width:47.0px;height:16px;overflow:hidden"><div style="left:4.3px;top:2px;width:900px;height:15px;line-height:15px;font-size:10.7px;color:#000;text-align:left;white-space:pre;font-weight:400;letter-spacing:-0.35px">Num Doc</div></div><div style="left:419px;top:136.5px;width:498.5px;height:18px;background:#0078d7"></div><div style="left:422.2px;top:139px;width:900px;height:15px;line-height:15px;font-size:10.7px;color:#fff;text-align:left;white-space:pre;font-weight:400;letter-spacing:-0.35px">11-10-2022</div><div style="left:486.6px;top:139px;width:900px;height:15px;line-height:15px;font-size:10.7px;color:#fff;text-align:left;white-space:pre;font-weight:400;letter-spacing:-0.35px">001</div><div style="left:-320.3px;top:139px;width:900px;height:15px;line-height:15px;font-size:10.7px;color:#fff;text-align:right;white-space:pre;font-weight:400;letter-spacing:-0.35px">4,00</div><div style="left:586.6px;top:139px;width:900px;height:15px;line-height:15px;font-size:10.7px;color:#fff;text-align:left;white-space:pre;font-weight:400;letter-spacing:-0.35px">NR</div><div style="left:616px;top:139px;width:900px;height:15px;line-height:15px;font-size:10.7px;color:#fff;text-align:left;white-space:pre;font-weight:400;letter-spacing:-0.35px">C</div><div style="left:636.6px;top:139px;width:900px;height:15px;line-height:15px;font-size:10.7px;color:#fff;text-align:left;white-space:pre;font-weight:400;letter-spacing:-0.35px">00111</div><div style="left:681.6px;top:139px;width:900px;height:15px;line-height:15px;font-size:10.7px;color:#fff;text-align:left;white-space:pre;font-weight:400;letter-spacing:-0.35px">CASA DEL DETERSIVO</div><div style="left:831.6px;top:139px;width:900px;height:15px;line-height:15px;font-size:10.7px;color:#fff;text-align:left;white-space:pre;font-weight:400;letter-spacing:-0.35px">TDORC</div><div style="left:868px;top:136.5px;width:49.5px;height:18px;overflow:hidden"><div style="left:-848px;top:2.5px;width:900px;height:15px;line-height:15px;font-size:10.7px;color:#fff;text-align:right;white-space:pre;font-weight:400;letter-spacing:-0.35px">8</div></div><div style="left:419px;top:154.5px;width:498.5px;height:18px;background:#fff"></div><div style="left:422.2px;top:157px;width:900px;height:15px;line-height:15px;font-size:10.7px;color:#f00000;text-align:left;white-space:pre;font-weight:400;letter-spacing:-0.35px">25-11-2022</div><div style="left:486.6px;top:157px;width:900px;height:15px;line-height:15px;font-size:10.7px;color:#000;text-align:left;white-space:pre;font-weight:400;letter-spacing:-0.35px">001</div><div style="left:-320.3px;top:157px;width:900px;height:15px;line-height:15px;font-size:10.7px;color:#000;text-align:right;white-space:pre;font-weight:400;letter-spacing:-0.35px">4,00</div><div style="left:586.6px;top:157px;width:900px;height:15px;line-height:15px;font-size:10.7px;color:#000;text-align:left;white-space:pre;font-weight:400;letter-spacing:-0.35px">NR</div><div style="left:616px;top:157px;width:900px;height:15px;line-height:15px;font-size:10.7px;color:#000;text-align:left;white-space:pre;font-weight:400;letter-spacing:-0.35px">C</div><div style="left:636.6px;top:157px;width:900px;height:15px;line-height:15px;font-size:10.7px;color:#000;text-align:left;white-space:pre;font-weight:400;letter-spacing:-0.35px">00111</div><div style="left:681.6px;top:157px;width:900px;height:15px;line-height:15px;font-size:10.7px;color:#000;text-align:left;white-space:pre;font-weight:400;letter-spacing:-0.35px">CASA DEL DETERSIVO</div><div style="left:831.6px;top:157px;width:900px;height:15px;line-height:15px;font-size:10.7px;color:#000;text-align:left;white-space:pre;font-weight:400;letter-spacing:-0.35px">TDORC</div><div style="left:868px;top:154.5px;width:49.5px;height:18px;overflow:hidden"><div style="left:-848px;top:2.5px;width:900px;height:15px;line-height:15px;font-size:10.7px;color:#000;text-align:right;white-space:pre;font-weight:400;letter-spacing:-0.35px">3</div></div><div style="left:419px;top:172.5px;width:498.5px;height:18px;background:#f2f2f2"></div><div style="left:422.2px;top:175px;width:900px;height:15px;line-height:15px;font-size:10.7px;color:#f00000;text-align:left;white-space:pre;font-weight:400;letter-spacing:-0.35px">18-01-2023</div><div style="left:486.6px;top:175px;width:900px;height:15px;line-height:15px;font-size:10.7px;color:#000;text-align:left;white-space:pre;font-weight:400;letter-spacing:-0.35px">001</div><div style="left:-320.3px;top:175px;width:900px;height:15px;line-height:15px;font-size:10.7px;color:#000;text-align:right;white-space:pre;font-weight:400;letter-spacing:-0.35px">4,00</div><div style="left:586.6px;top:175px;width:900px;height:15px;line-height:15px;font-size:10.7px;color:#000;text-align:left;white-space:pre;font-weight:400;letter-spacing:-0.35px">NR</div><div style="left:616px;top:175px;width:900px;height:15px;line-height:15px;font-size:10.7px;color:#000;text-align:left;white-space:pre;font-weight:400;letter-spacing:-0.35px">C</div><div style="left:636.6px;top:175px;width:900px;height:15px;line-height:15px;font-size:10.7px;color:#000;text-align:left;white-space:pre;font-weight:400;letter-spacing:-0.35px">00200</div><div style="left:681.6px;top:175px;width:900px;height:15px;line-height:15px;font-size:10.7px;color:#000;text-align:left;white-space:pre;font-weight:400;letter-spacing:-0.35px">COMUNE DI PRAVISDOMINI ...</div><div style="left:831.6px;top:175px;width:900px;height:15px;line-height:15px;font-size:10.7px;color:#000;text-align:left;white-space:pre;font-weight:400;letter-spacing:-0.35px">TDORC</div><div style="left:868px;top:172.5px;width:49.5px;height:18px;overflow:hidden"><div style="left:-848px;top:2.5px;width:900px;height:15px;line-height:15px;font-size:10.7px;color:#000;text-align:right;white-space:pre;font-weight:400;letter-spacing:-0.35px">15</div></div><div style="left:419px;top:190.5px;width:498.5px;height:18px;background:#fff"></div><div style="left:422.2px;top:193px;width:900px;height:15px;line-height:15px;font-size:10.7px;color:#f00000;text-align:left;white-space:pre;font-weight:400;letter-spacing:-0.35px">30-03-2023</div><div style="left:486.6px;top:193px;width:900px;height:15px;line-height:15px;font-size:10.7px;color:#000;text-align:left;white-space:pre;font-weight:400;letter-spacing:-0.35px">001</div><div style="left:-320.3px;top:193px;width:900px;height:15px;line-height:15px;font-size:10.7px;color:#000;text-align:right;white-space:pre;font-weight:400;letter-spacing:-0.35px">2,00</div><div style="left:586.6px;top:193px;width:900px;height:15px;line-height:15px;font-size:10.7px;color:#000;text-align:left;white-space:pre;font-weight:400;letter-spacing:-0.35px">NR</div><div style="left:616px;top:193px;width:900px;height:15px;line-height:15px;font-size:10.7px;color:#000;text-align:left;white-space:pre;font-weight:400;letter-spacing:-0.35px">C</div><div style="left:636.6px;top:193px;width:900px;height:15px;line-height:15px;font-size:10.7px;color:#000;text-align:left;white-space:pre;font-weight:400;letter-spacing:-0.35px">00119</div><div style="left:681.6px;top:193px;width:900px;height:15px;line-height:15px;font-size:10.7px;color:#000;text-align:left;white-space:pre;font-weight:400;letter-spacing:-0.35px">EASY SOFTWARE SRL</div><div style="left:831.6px;top:193px;width:900px;height:15px;line-height:15px;font-size:10.7px;color:#000;text-align:left;white-space:pre;font-weight:400;letter-spacing:-0.35px">TDORC</div><div style="left:868px;top:190.5px;width:49.5px;height:18px;overflow:hidden"><div style="left:-848px;top:2.5px;width:900px;height:15px;line-height:15px;font-size:10.7px;color:#000;text-align:right;white-space:pre;font-weight:400;letter-spacing:-0.35px">18</div></div><div style="left:419px;top:208.5px;width:498.5px;height:18px;background:#f2f2f2"></div><div style="left:422.2px;top:211px;width:900px;height:15px;line-height:15px;font-size:10.7px;color:#f00000;text-align:left;white-space:pre;font-weight:400;letter-spacing:-0.35px">30-03-2023</div><div style="left:486.6px;top:211px;width:900px;height:15px;line-height:15px;font-size:10.7px;color:#000;text-align:left;white-space:pre;font-weight:400;letter-spacing:-0.35px">001</div><div style="left:-320.3px;top:211px;width:900px;height:15px;line-height:15px;font-size:10.7px;color:#000;text-align:right;white-space:pre;font-weight:400;letter-spacing:-0.35px">5,00</div><div style="left:586.6px;top:211px;width:900px;height:15px;line-height:15px;font-size:10.7px;color:#000;text-align:left;white-space:pre;font-weight:400;letter-spacing:-0.35px">NR</div><div style="left:616px;top:211px;width:900px;height:15px;line-height:15px;font-size:10.7px;color:#000;text-align:left;white-space:pre;font-weight:400;letter-spacing:-0.35px">C</div><div style="left:636.6px;top:211px;width:900px;height:15px;line-height:15px;font-size:10.7px;color:#000;text-align:left;white-space:pre;font-weight:400;letter-spacing:-0.35px">00108</div><div style="left:681.6px;top:211px;width:900px;height:15px;line-height:15px;font-size:10.7px;color:#000;text-align:left;white-space:pre;font-weight:400;letter-spacing:-0.35px">EASY COMPUTER SRL</div><div style="left:831.6px;top:211px;width:900px;height:15px;line-height:15px;font-size:10.7px;color:#000;text-align:left;white-space:pre;font-weight:400;letter-spacing:-0.35px">TDORC</div><div style="left:868px;top:208.5px;width:49.5px;height:18px;overflow:hidden"><div style="left:-848px;top:2.5px;width:900px;height:15px;line-height:15px;font-size:10.7px;color:#000;text-align:right;white-space:pre;font-weight:400;letter-spacing:-0.35px">14</div></div><div style="left:419px;top:269px;width:498.5px;height:16px;background:#f0f0f0"></div><div style="left:436px;top:270px;width:135px;height:14px;background:#c9c9c9"></div><svg style="left:425px;top:273.0px" width="6" height="8"><path d="M4.8,0.8 L1.5,4 L4.8,7.2" fill="none" stroke="#505050" stroke-width="2"/></svg><svg style="left:905.5px;top:273.0px" width="6" height="8"><path d="M1.2,0.8 L4.5,4 L1.2,7.2" fill="none" stroke="#505050" stroke-width="2"/></svg><div style="left:418px;top:289px;width:92px;height:19.5px;background:#6b6b6b"></div><div style="left:420.3px;top:291px;width:900px;height:17px;line-height:17px;font-size:12.3px;color:#fff;text-align:left;white-space:pre;font-weight:400;">Prezzo Unitario</div><div style="left:512px;top:289px;width:93px;height:19.5px;background:#e9eeee;border:1px solid #7a7a7a"></div><div style="left:-307px;top:292px;width:900px;height:15px;line-height:15px;font-size:10.7px;color:#1a1a1a;text-align:right;white-space:pre;font-weight:400;">1.750,000</div><div style="left:616px;top:289px;width:41px;height:19.5px;background:#6b6b6b"></div><div style="left:618px;top:291px;width:900px;height:17px;line-height:17px;font-size:12.3px;color:#fff;text-align:left;white-space:pre;font-weight:400;">Sc tot</div><div style="left:659.5px;top:289px;width:44px;height:19.5px;background:#e9eeee;border:1px solid #7a7a7a"></div><div style="left:-201.0px;top:292px;width:900px;height:15px;line-height:15px;font-size:10.7px;color:#1a1a1a;text-align:right;white-space:pre;font-weight:400;">0,00</div><div style="left:716px;top:289px;width:71px;height:19.5px;background:#6b6b6b"></div><div style="left:718px;top:291px;width:900px;height:17px;line-height:17px;font-size:12.3px;color:#fff;text-align:left;white-space:pre;font-weight:400;">Val Residuo</div><div style="left:418px;top:313.5px;width:323px;height:12.5px;background:#6b6b6b"></div><div style="left:420px;top:312px;width:900px;height:17px;line-height:17px;font-size:12.3px;color:#fff;text-align:left;white-space:pre;font-weight:400;"></div><div style="left:418px;top:313.5px;width:323px;height:12.5px;overflow:hidden"><div style="left:-289.0px;top:0.5px;width:900px;height:17px;line-height:17px;font-size:12.3px;color:#fff;text-align:center;white-space:pre;font-weight:400;">Commesse</div></div><div style="left:757.5px;top:308.5px;width:78px;height:17.5px;background:#528862"></div><div style="left:346.5px;top:311px;width:900px;height:15px;line-height:15px;font-size:10.7px;color:#e8f2e8;text-align:center;white-space:pre;font-weight:400;">Commessa</div><div style="left:838.5px;top:308.5px;width:79px;height:17.5px;background:#528862"></div><div style="left:428.0px;top:311px;width:900px;height:15px;line-height:15px;font-size:10.7px;color:#e8f2e8;text-align:center;white-space:pre;font-weight:400;">DB Commessa</div><div style="left:417px;top:326px;width:502px;height:60px;background:#fff;border-top:1px solid #a0a0a0;border-left:1px solid #a0a0a0;box-shadow:inset 1px 1px 0 #696969"></div><div style="left:419px;top:327.5px;width:19.5px;height:18px;background:#f0f0f0;border-top:1px solid #fff;border-left:1px solid #fff;border-right:2px solid #7c7c7c;border-bottom:2px solid #7c7c7c;box-shadow:inset -1px -1px 0 #b4b4b4"></div><div style="left:419px;top:327.5px;width:17.5px;height:16px;overflow:hidden"><div style="left:4.2px;top:2.5px;width:900px;height:15px;line-height:15px;font-size:10.7px;color:#000;text-align:left;white-space:pre;font-weight:400;letter-spacing:-0.35px">Sr</div></div><div style="left:438.5px;top:327.5px;width:94.0px;height:18px;background:#f0f0f0;border-top:1px solid #fff;border-left:1px solid #fff;border-right:2px solid #7c7c7c;border-bottom:2px solid #7c7c7c;box-shadow:inset -1px -1px 0 #b4b4b4"></div><div style="left:438.5px;top:327.5px;width:92.0px;height:16px;overflow:hidden"><div style="left:4.2px;top:2.5px;width:900px;height:15px;line-height:15px;font-size:10.7px;color:#000;text-align:left;white-space:pre;font-weight:400;letter-spacing:-0.35px">Articolo</div></div><div style="left:532.5px;top:327.5px;width:49.0px;height:18px;background:#f0f0f0;border-top:1px solid #fff;border-left:1px solid #fff;border-right:2px solid #7c7c7c;border-bottom:2px solid #7c7c7c;box-shadow:inset -1px -1px 0 #b4b4b4"></div><div style="left:532.5px;top:327.5px;width:47.0px;height:16px;overflow:hidden"><div style="left:4.2px;top:2.5px;width:900px;height:15px;line-height:15px;font-size:10.7px;color:#000;text-align:left;white-space:pre;font-weight:400;letter-spacing:-0.35px">Qt da P.</div></div><div style="left:581.5px;top:327.5px;width:49.0px;height:18px;background:#f0f0f0;border-top:1px solid #fff;border-left:1px solid #fff;border-right:2px solid #7c7c7c;border-bottom:2px solid #7c7c7c;box-shadow:inset -1px -1px 0 #b4b4b4"></div><div style="left:581.5px;top:327.5px;width:47.0px;height:16px;overflow:hidden"><div style="left:4.2px;top:2.5px;width:900px;height:15px;line-height:15px;font-size:10.7px;color:#000;text-align:left;white-space:pre;font-weight:400;letter-spacing:-0.35px">Man/Wip</div></div><div style="left:630.5px;top:327.5px;width:69.0px;height:18px;background:#f0f0f0;border-top:1px solid #fff;border-left:1px solid #fff;border-right:2px solid #7c7c7c;border-bottom:2px solid #7c7c7c;box-shadow:inset -1px -1px 0 #b4b4b4"></div><div style="left:630.5px;top:327.5px;width:67.0px;height:16px;overflow:hidden"><div style="left:4.2px;top:2.5px;width:900px;height:15px;line-height:15px;font-size:10.7px;color:#000;text-align:left;white-space:pre;font-weight:400;letter-spacing:-0.35px">Cons. Prev.</div></div><div style="left:699.5px;top:327.5px;width:72.0px;height:18px;background:#f0f0f0;border-top:1px solid #fff;border-left:1px solid #fff;border-right:2px solid #7c7c7c;border-bottom:2px solid #7c7c7c;box-shadow:inset -1px -1px 0 #b4b4b4"></div><div style="left:699.5px;top:327.5px;width:70.0px;height:16px;overflow:hidden"><div style="left:4.2px;top:2.5px;width:900px;height:15px;line-height:15px;font-size:10.7px;color:#000;text-align:left;white-space:pre;font-weight:400;letter-spacing:-0.35px">Commessa</div></div><div style="left:771.5px;top:327.5px;width:22.0px;height:18px;background:#f0f0f0;border-top:1px solid #fff;border-left:1px solid #fff;border-right:2px solid #7c7c7c;border-bottom:2px solid #7c7c7c;box-shadow:inset -1px -1px 0 #b4b4b4"></div><div style="left:771.5px;top:327.5px;width:20.0px;height:16px;overflow:hidden"><div style="left:4.2px;top:2.5px;width:900px;height:15px;line-height:15px;font-size:10.7px;color:#000;text-align:left;white-space:pre;font-weight:400;letter-spacing:-0.35px">Mc</div></div><div style="left:793.5px;top:327.5px;width:30.0px;height:18px;background:#f0f0f0;border-top:1px solid #fff;border-left:1px solid #fff;border-right:2px solid #7c7c7c;border-bottom:2px solid #7c7c7c;box-shadow:inset -1px -1px 0 #b4b4b4"></div><div style="left:793.5px;top:327.5px;width:28.0px;height:16px;overflow:hidden"><div style="left:4.2px;top:2.5px;width:900px;height:15px;line-height:15px;font-size:10.7px;color:#000;text-align:left;white-space:pre;font-weight:400;letter-spacing:-0.35px">Ri.C.</div></div><div style="left:823.5px;top:327.5px;width:49.0px;height:18px;background:#f0f0f0;border-top:1px solid #fff;border-left:1px solid #fff;border-right:2px solid #7c7c7c;border-bottom:2px solid #7c7c7c;box-shadow:inset -1px -1px 0 #b4b4b4"></div><div style="left:823.5px;top:327.5px;width:47.0px;height:16px;overflow:hidden"><div style="left:4.2px;top:2.5px;width:900px;height:15px;line-height:15px;font-size:10.7px;color:#000;text-align:left;white-space:pre;font-weight:400;letter-spacing:-0.35px">Tot.Nec.</div></div><div style="left:872.5px;top:327.5px;width:30.0px;height:18px;background:#f0f0f0;border-top:1px solid #fff;border-left:1px solid #fff;border-right:2px solid #7c7c7c;border-bottom:2px solid #7c7c7c;box-shadow:inset -1px -1px 0 #b4b4b4"></div><div style="left:872.5px;top:327.5px;width:28.0px;height:16px;overflow:hidden"><div style="left:4.2px;top:2.5px;width:900px;height:15px;line-height:15px;font-size:10.7px;color:#000;text-align:left;white-space:pre;font-weight:400;letter-spacing:-0.35px">Riga</div></div><div style="left:902.5px;top:327.5px;width:15.0px;height:18px;background:#f0f0f0;border-top:1px solid #fff;border-left:1px solid #fff;border-right:2px solid #7c7c7c;border-bottom:2px solid #7c7c7c;box-shadow:inset -1px -1px 0 #b4b4b4"></div><div style="left:902.5px;top:327.5px;width:13.0px;height:16px;overflow:hidden"><div style="left:4.2px;top:2.5px;width:900px;height:15px;line-height:15px;font-size:10.7px;color:#000;text-align:left;white-space:pre;font-weight:400;letter-spacing:-0.35px">De</div></div><div style="left:400px;top:369px;width:1049px;height:493px;background:linear-gradient(#9ab3d0 0px, #a9c1dd 14px, #bad0e9 30px, #b9d1ea 31px, #b9d1ea 100%);border:1px solid #2e2e2e;border-radius:7px 7px 0 0;box-shadow:inset 0 0 0 1px rgba(255,255,255,0.55)"></div><svg style="left:411px;top:380px" width="14" height="16" viewBox="0 0 14 16"><defs><linearGradient id="ig" x1="0" y1="0" x2="1" y2="1"><stop offset="0" stop-color="#f6c096"/><stop offset="0.6" stop-color="#f3dcc8"/><stop offset="1" stop-color="#efe6e0"/></linearGradient></defs><rect x="0.5" y="0.5" width="12.5" height="15" rx="0.8" fill="url(#ig)" stroke="#86625a" stroke-width="1"/><rect x="2" y="2" width="9.5" height="1.3" fill="#a81e1e"/><rect x="2" y="4.3" width="4.3" height="1" fill="#b04a3c"/><rect x="2" y="6.3" width="3.8" height="1" fill="#b04a3c"/><rect x="2" y="8.3" width="4.3" height="1" fill="#b04a3c"/><rect x="2" y="10.3" width="5.5" height="1" fill="#a8503c"/><rect x="2" y="12.3" width="3" height="1" fill="#b07060"/><rect x="7.3" y="4.2" width="4.2" height="3.6" fill="#fff" opacity="0.55"/><rect x="9.2" y="8.5" width="2.3" height="3" fill="#fff" opacity="0.55"/><rect x="6.5" y="12.2" width="5" height="1.2" fill="#fff" opacity="0.7"/></svg><div style="left:430.3px;top:381px;width:900px;height:16px;line-height:16px;font-size:11.7px;color:#000;text-align:left;white-space:pre;font-weight:400;">Pannello decisionale ordini</div><div style="left:1339px;top:379px;width:31px;height:17.5px;background:linear-gradient(#c6d7ec 0%, #bcd0e8 45%, #98b3d3 50%, #a7bfdc 75%, #bcd1ea 100%);border:1px solid #4f6077;border-radius:3px;box-shadow:inset 0 0 0 1px rgba(255,255,255,0.45)"></div><svg style="left:1348.5px;top:385.75px" width="12" height="7" viewBox="0 0 12 7"><rect x="0.5" y="1" width="10.5" height="4.5" rx="0.8" fill="#f4f4f4" stroke="#3a3f4a" stroke-width="1"/></svg><div style="left:1373px;top:379px;width:31px;height:17.5px;background:linear-gradient(#c6d7ec 0%, #bcd0e8 45%, #98b3d3 50%, #a7bfdc 75%, #bcd1ea 100%);border:1px solid #4f6077;border-radius:3px;box-shadow:inset 0 0 0 1px rgba(255,255,255,0.45)"></div><svg style="left:1382.5px;top:382.25px" width="12" height="10" viewBox="0 0 12 10"><rect x="0.5" y="0.5" width="10.5" height="8.5" rx="0.8" fill="#f4f4f4" stroke="#3a3f4a" stroke-width="1"/><rect x="3" y="3" width="5.5" height="2.6" fill="#7d93b3" stroke="#3a3f4a" stroke-width="0.7"/></svg><div style="left:1407px;top:379px;width:31.5px;height:17.5px;background:linear-gradient(#e9a796 0%, #d98a78 45%, #b93a24 50%, #c7482f 75%, #d9745a 100%);border:1px solid #5a1a14;border-radius:3px;box-shadow:inset 0 0 0 1px rgba(255,255,255,0.45)"></div><svg style="left:1415.75px;top:382.25px" width="14" height="11" viewBox="0 0 14 11"><path d="M2.6,1.4 L11.4,9.6 M11.4,1.4 L2.6,9.6" stroke="#3a3f4a" stroke-width="4.4" stroke-linecap="butt"/><path d="M2.9,1.7 L11.1,9.3 M11.1,1.7 L2.9,9.3" stroke="#f6f6f6" stroke-width="2.6" stroke-linecap="butt"/></svg><div style="left:401px;top:859.5px;width:1047px;height:1px;background:#2fb4e0"></div><div style="left:1446.8px;top:385px;width:1px;height:475px;background:#3cc0ea"></div><div style="left:408px;top:400px;width:1033px;height:454px;background:#f0f0f0"></div><div style="left:408px;top:400px;width:395px;height:28px;border-top:1px solid #fff;border-left:1px solid #fff"></div><div style="left:803px;top:402px;width:638px;height:25px;border-top:1px solid #fff"></div><div style="left:802px;top:401px;width:1px;height:26px;background:#a0a0a0"></div><div style="left:803px;top:401px;width:1px;height:26px;background:#696969"></div><div style="left:804px;top:401px;width:1px;height:26px;background:#fff"></div><div style="left:1145px;top:402px;width:1px;height:25px;background:#a0a0a0"></div><div style="left:1146px;top:402px;width:1px;height:25px;background:#696969"></div><div style="left:1147px;top:402px;width:1px;height:25px;background:#fff"></div><div style="left:803px;top:427px;width:638px;height:1px;background:#fff"></div><div style="left:154.4px;top:406px;width:900px;height:17px;line-height:17px;font-size:12.3px;color:#000;text-align:center;white-space:pre;font-weight:400;">Clienti/Fornitori</div><div style="left:523.7px;top:408px;width:900px;height:17px;line-height:17px;font-size:12.3px;color:#000;text-align:center;white-space:pre;font-weight:400;">Agenti</div><div style="left:870.0px;top:408px;width:900px;height:17px;line-height:17px;font-size:12.3px;color:#000;text-align:center;white-space:pre;font-weight:400;">Articoli</div><svg style="left:416.7px;top:441px" width="12" height="12" viewBox="0 0 12 12"><circle cx="6" cy="6" r="4.5" fill="#fff"/><path d="M2.18166,9.81834 A5.4,5.4 0 0 1 9.81834,2.18166" fill="none" stroke="#8a8a8a" stroke-width="1.1"/><path d="M9.81834,2.18166 A5.4,5.4 0 0 1 2.18166,9.81834" fill="none" stroke="#fdfdfd" stroke-width="1.1"/><path d="M2.88876,9.11124 A4.4,4.4 0 0 1 9.11124,2.88876" fill="none" stroke="#4a4a4a" stroke-width="1.0"/><path d="M9.11124,2.88876 A4.4,4.4 0 0 1 2.88876,9.11124" fill="none" stroke="#dcdcdc" stroke-width="1.0"/><circle cx="6" cy="6" r="2.1" fill="#000"/></svg><div style="left:432.2px;top:441px;width:900px;height:15px;line-height:15px;font-size:10.9px;color:#000;text-align:left;white-space:pre;font-weight:400;">Clienti</div><svg style="left:416.7px;top:458.5px" width="12" height="12" viewBox="0 0 12 12"><circle cx="6" cy="6" r="4.5" fill="#fff"/><path d="M2.18166,9.81834 A5.4,5.4 0 0 1 9.81834,2.18166" fill="none" stroke="#8a8a8a" stroke-width="1.1"/><path d="M9.81834,2.18166 A5.4,5.4 0 0 1 2.18166,9.81834" fill="none" stroke="#fdfdfd" stroke-width="1.1"/><path d="M2.88876,9.11124 A4.4,4.4 0 0 1 9.11124,2.88876" fill="none" stroke="#4a4a4a" stroke-width="1.0"/><path d="M9.11124,2.88876 A4.4,4.4 0 0 1 2.88876,9.11124" fill="none" stroke="#dcdcdc" stroke-width="1.0"/></svg><div style="left:432.2px;top:459px;width:900px;height:15px;line-height:15px;font-size:10.9px;color:#000;text-align:left;white-space:pre;font-weight:400;">Fornitori</div><div style="left:480px;top:437px;width:107.5px;height:20.5px;background:#fff;border:1px solid #7a7a7a"></div><div style="left:589.5px;top:437px;width:215px;height:20.5px;background:#e9eeee;border:1px solid #7a7a7a"></div><div style="left:480px;top:459.3px;width:107.5px;height:20.5px;background:#fff;border:1px solid #7a7a7a"></div><div style="left:589.5px;top:459.3px;width:215px;height:20.5px;background:#e9eeee;border:1px solid #7a7a7a"></div><div style="left:480px;top:480.8px;width:107.5px;height:20px;background:#fff;border:1px solid #7a7a7a"></div><div style="left:589.5px;top:480.8px;width:215px;height:20px;background:#e9eeee;border:1px solid #7a7a7a"></div><div style="left:480px;top:503px;width:107.5px;height:20px;background:#fff;border:1px solid #7a7a7a"></div><div style="left:589.5px;top:503px;width:215px;height:20px;background:#e9eeee;border:1px solid #7a7a7a"></div><div style="left:416.5px;top:481.3px;width:60px;height:20.3px;background:#6b6b6b"></div><div style="left:419.0px;top:483px;width:900px;height:17px;line-height:17px;font-size:12.3px;color:#fff;text-align:left;white-space:pre;font-weight:400;">Articolo</div><div style="left:416.5px;top:525.6px;width:60.5px;height:20px;background:#6b6b6b"></div><div style="left:419.0px;top:528px;width:900px;height:17px;line-height:17px;font-size:12.3px;color:#fff;text-align:left;white-space:pre;font-weight:400;">Periodo 1</div><div style="left:416.5px;top:547.4px;width:60.5px;height:20px;background:#6b6b6b"></div><div style="left:419.0px;top:549px;width:900px;height:17px;line-height:17px;font-size:12.3px;color:#fff;text-align:left;white-space:pre;font-weight:400;">Periodo 2</div><div style="left:416.5px;top:569.4px;width:60.5px;height:20.5px;background:#6b6b6b"></div><div style="left:419.0px;top:571px;width:900px;height:17px;line-height:17px;font-size:12.3px;color:#fff;text-align:left;white-space:pre;font-weight:400;">Ordine</div><div style="left:479.4px;top:525.6px;width:73.2px;height:20px;background:#fff;border:1px solid #e21b1b"></div><div style="left:482.9px;top:528px;width:900px;height:17px;line-height:17px;font-size:12.3px;color:#000;text-align:left;white-space:pre;font-weight:400;">01-01-2023</div><div style="left:554px;top:525.6px;width:71.5px;height:20px;background:#fff;border:1px solid #7a7a7a"></div><div style="left:557.8px;top:528px;width:900px;height:17px;line-height:17px;font-size:12.3px;color:#000;text-align:left;white-space:pre;font-weight:400;">19-07-2023</div><div style="left:479.4px;top:547.4px;width:73.2px;height:20px;background:#fff;border:1px solid #e21b1b"></div><div style="left:482.9px;top:549px;width:900px;height:17px;line-height:17px;font-size:12.3px;color:#000;text-align:left;white-space:pre;font-weight:400;">01-01-2022</div><div style="left:554px;top:547.4px;width:71.5px;height:20px;background:#fff;border:1px solid #7a7a7a"></div><div style="left:557.8px;top:549px;width:900px;height:17px;line-height:17px;font-size:12.3px;color:#000;text-align:left;white-space:pre;font-weight:400;">19-07-2022</div><div style="left:631px;top:527.3px;width:25px;height:20px;background:#6b6b6b"></div><div style="left:632.5px;top:530px;width:900px;height:17px;line-height:17px;font-size:12.3px;color:#fff;text-align:left;white-space:pre;font-weight:400;">Con</div><div style="left:659px;top:526px;width:71.5px;height:19.5px;background:#fff;border:1px solid #7a7a7a"></div><div style="left:667.5px;top:528px;width:900px;height:17px;line-height:17px;font-size:12.3px;color:#000;text-align:left;white-space:pre;font-weight:400;">-  -</div><div style="left:733.4px;top:526px;width:71.2px;height:19.5px;background:#fff;border:1px solid #7a7a7a"></div><div style="left:741.9px;top:528px;width:900px;height:17px;line-height:17px;font-size:12.3px;color:#000;text-align:left;white-space:pre;font-weight:400;">-  -</div><div style="left:659px;top:548px;width:71.5px;height:19.5px;background:#fff;border:1px solid #7a7a7a"></div><div style="left:667.5px;top:549px;width:900px;height:17px;line-height:17px;font-size:12.3px;color:#000;text-align:left;white-space:pre;font-weight:400;">-  -</div><div style="left:733.4px;top:548px;width:71.2px;height:19.5px;background:#fff;border:1px solid #7a7a7a"></div><div style="left:741.9px;top:549px;width:900px;height:17px;line-height:17px;font-size:12.3px;color:#000;text-align:left;white-space:pre;font-weight:400;">-  -</div><svg style="left:480.5px;top:574.8px" width="12" height="12" viewBox="0 0 12 12"><circle cx="6" cy="6" r="4.5" fill="#fff"/><path d="M2.18166,9.81834 A5.4,5.4 0 0 1 9.81834,2.18166" fill="none" stroke="#8a8a8a" stroke-width="1.1"/><path d="M9.81834,2.18166 A5.4,5.4 0 0 1 2.18166,9.81834" fill="none" stroke="#fdfdfd" stroke-width="1.1"/><path d="M2.88876,9.11124 A4.4,4.4 0 0 1 9.11124,2.88876" fill="none" stroke="#4a4a4a" stroke-width="1.0"/><path d="M9.11124,2.88876 A4.4,4.4 0 0 1 2.88876,9.11124" fill="none" stroke="#dcdcdc" stroke-width="1.0"/><circle cx="6" cy="6" r="2.1" fill="#000"/></svg><div style="left:496px;top:574px;width:900px;height:17px;line-height:17px;font-size:12.3px;color:#000;text-align:left;white-space:pre;font-weight:400;">Codice</div><svg style="left:539.7px;top:574.8px" width="12" height="12" viewBox="0 0 12 12"><circle cx="6" cy="6" r="4.5" fill="#fff"/><path d="M2.18166,9.81834 A5.4,5.4 0 0 1 9.81834,2.18166" fill="none" stroke="#8a8a8a" stroke-width="1.1"/><path d="M9.81834,2.18166 A5.4,5.4 0 0 1 2.18166,9.81834" fill="none" stroke="#fdfdfd" stroke-width="1.1"/><path d="M2.88876,9.11124 A4.4,4.4 0 0 1 9.11124,2.88876" fill="none" stroke="#4a4a4a" stroke-width="1.0"/><path d="M9.11124,2.88876 A4.4,4.4 0 0 1 2.88876,9.11124" fill="none" stroke="#dcdcdc" stroke-width="1.0"/></svg><div style="left:555.7px;top:574px;width:900px;height:17px;line-height:17px;font-size:12.3px;color:#000;text-align:left;white-space:pre;font-weight:400;">ABC quantità</div><svg style="left:632px;top:574.8px" width="12" height="12" viewBox="0 0 12 12"><circle cx="6" cy="6" r="4.5" fill="#fff"/><path d="M2.18166,9.81834 A5.4,5.4 0 0 1 9.81834,2.18166" fill="none" stroke="#8a8a8a" stroke-width="1.1"/><path d="M9.81834,2.18166 A5.4,5.4 0 0 1 2.18166,9.81834" fill="none" stroke="#fdfdfd" stroke-width="1.1"/><path d="M2.88876,9.11124 A4.4,4.4 0 0 1 9.11124,2.88876" fill="none" stroke="#4a4a4a" stroke-width="1.0"/><path d="M9.11124,2.88876 A4.4,4.4 0 0 1 2.88876,9.11124" fill="none" stroke="#dcdcdc" stroke-width="1.0"/></svg><div style="left:647.6px;top:574px;width:900px;height:17px;line-height:17px;font-size:12.3px;color:#000;text-align:left;white-space:pre;font-weight:400;">ABC valore</div><svg style="left:809.5px;top:440.6px" width="12" height="12" viewBox="0 0 12 12"><circle cx="6" cy="6" r="4.5" fill="#fff"/><path d="M2.18166,9.81834 A5.4,5.4 0 0 1 9.81834,2.18166" fill="none" stroke="#8a8a8a" stroke-width="1.1"/><path d="M9.81834,2.18166 A5.4,5.4 0 0 1 2.18166,9.81834" fill="none" stroke="#fdfdfd" stroke-width="1.1"/><path d="M2.88876,9.11124 A4.4,4.4 0 0 1 9.11124,2.88876" fill="none" stroke="#4a4a4a" stroke-width="1.0"/><path d="M9.11124,2.88876 A4.4,4.4 0 0 1 2.88876,9.11124" fill="none" stroke="#dcdcdc" stroke-width="1.0"/><circle cx="6" cy="6" r="2.1" fill="#000"/></svg><div style="left:825.5px;top:439px;width:900px;height:17px;line-height:17px;font-size:12.3px;color:#000;text-align:left;white-space:pre;font-weight:400;">Ordinato</div><svg style="left:809.5px;top:457.2px" width="12" height="12" viewBox="0 0 12 12"><circle cx="6" cy="6" r="4.5" fill="#fff"/><path d="M2.18166,9.81834 A5.4,5.4 0 0 1 9.81834,2.18166" fill="none" stroke="#8a8a8a" stroke-width="1.1"/><path d="M9.81834,2.18166 A5.4,5.4 0 0 1 2.18166,9.81834" fill="none" stroke="#fdfdfd" stroke-width="1.1"/><path d="M2.88876,9.11124 A4.4,4.4 0 0 1 9.11124,2.88876" fill="none" stroke="#4a4a4a" stroke-width="1.0"/><path d="M9.11124,2.88876 A4.4,4.4 0 0 1 2.88876,9.11124" fill="none" stroke="#dcdcdc" stroke-width="1.0"/></svg><div style="left:825.5px;top:456px;width:900px;height:17px;line-height:17px;font-size:12.3px;color:#000;text-align:left;white-space:pre;font-weight:400;">Da evadere</div><div style="left:899.4px;top:438.6px;width:150.3px;height:20.1px;background:#fff;border:1px solid #6e6e6e"></div><div style="left:903.4px;top:441px;width:900px;height:17px;line-height:17px;font-size:12.3px;color:#000;text-align:left;white-space:pre;font-weight:400;">Categoria</div><div style="left:1031.3px;top:440.3px;width:16.2px;height:16.8px;background:#f0f0f0;border:1px solid #a8a8a8;box-shadow:inset 1px 1px 0 #fff"></div><svg style="left:1035px;top:446px" width="9" height="5"><path d="M0,0 L9,0 L4.5,5 Z" fill="#000"/></svg><div style="left:899.4px;top:466.6px;width:12px;height:12px;background:#fff;border:2px solid #5c5c5c"></div><div style="left:915.5px;top:465px;width:900px;height:17px;line-height:17px;font-size:12.3px;color:#000;text-align:left;white-space:pre;font-weight:400;">Grafico su Quantità</div><div style="left:1040.4px;top:464.8px;width:12px;height:12px;background:#fff;border:2px solid #5c5c5c"></div><div style="left:1056.3px;top:463px;width:900px;height:17px;line-height:17px;font-size:12.3px;color:#000;text-align:left;white-space:pre;font-weight:400;">Destinatari</div><div style="left:1128.7px;top:435.3px;width:66.09999999999991px;height:38.3px;background:#528862"></div><div style="left:1198px;top:435.3px;width:65.70000000000005px;height:38.3px;background:#528862"></div><div style="left:1267.1px;top:435.3px;width:65.70000000000005px;height:38.3px;background:#528862"></div><div style="left:1335.1px;top:435.3px;width:65.5px;height:38.3px;background:#528862"></div><div style="left:1403.3px;top:435.3px;width:37.700000000000045px;height:38.3px;background:#528862"></div><svg style="left:1151.5px;top:443.5px" width="21" height="21" viewBox="0 0 21 21"><rect x="0.75" y="0.75" width="19.5" height="19.5" fill="#0a8a35" stroke="#fff" stroke-width="1.5"/><path d="M5,10.5 L8.8,14.2 L16,6.8" fill="none" stroke="#fff" stroke-width="3" stroke-linecap="round" stroke-linejoin="round"/></svg><div style="left:780.6px;top:440px;width:900px;height:31px;line-height:31px;font-size:22px;color:#fff;text-align:center;white-space:pre;font-weight:700;">+</div><div style="left:850.0px;top:440px;width:900px;height:31px;line-height:31px;font-size:22px;color:#fff;text-align:center;white-space:pre;font-weight:700;">-</div><svg style="left:1356px;top:441.7px" width="24.5" height="24.5" viewBox="0 0 24.5 24.5"><rect width="24.5" height="24.5" fill="#fff"/><rect x="7" y="3.5" width="10.5" height="4" fill="none" stroke="#0f8a3a" stroke-width="1.4"/><rect x="3.5" y="7.5" width="17.5" height="8.5" rx="1.5" fill="none" stroke="#0f8a3a" stroke-width="1.5"/><rect x="7" y="12.5" width="10.5" height="8.5" fill="#fff" stroke="#0f8a3a" stroke-width="1.4"/><path d="M9,15.3 L15.5,15.3 M9,17.6 L15.5,17.6" stroke="#0f8a3a" stroke-width="1"/><circle cx="16.7" cy="10" r="0.7" fill="#0f8a3a"/><circle cx="18.5" cy="10" r="0.7" fill="#0f8a3a"/></svg><div style="left:1403px;top:435px;width:38px;height:38px;overflow:hidden"><div style="left:15px;top:4px;width:900px;height:15px;line-height:15px;font-size:10.7px;color:#f2f6f2;text-align:left;white-space:pre;font-weight:400;">Stampa</div></div><div style="left:1403px;top:435px;width:38px;height:38px;overflow:hidden"><div style="left:13px;top:18px;width:900px;height:15px;line-height:15px;font-size:10.7px;color:#f2f6f2;text-align:left;white-space:pre;font-weight:400;">analitica</div></div><div style="left:809.5px;top:488.5px;width:622.0px;height:362.5px;background:#fff;border-top:2px solid #6f6f6f;border-left:2px solid #6f6f6f;border-right:1px solid #f0f0f0;border-bottom:1px solid #f0f0f0"></div><div style="left:811.5px;top:490.5px;width:29.5px;height:17px;background:#f0f0f0;border-top:1px solid #fff;border-left:1px solid #fff;border-right:2px solid #7c7c7c;border-bottom:2px solid #7c7c7c;box-shadow:inset -1px -1px 0 #b4b4b4"></div><div style="left:811.5px;top:490.5px;width:27.5px;height:15px;overflow:hidden"><div style="left:4.0px;top:1.5px;width:900px;height:15px;line-height:15px;font-size:10.7px;color:#000;text-align:left;white-space:pre;font-weight:400;letter-spacing:-0.3px">Riga</div></div><div style="left:841px;top:490.5px;width:79.5px;height:17px;background:#f0f0f0;border-top:1px solid #fff;border-left:1px solid #fff;border-right:2px solid #7c7c7c;border-bottom:2px solid #7c7c7c;box-shadow:inset -1px -1px 0 #b4b4b4"></div><div style="left:841px;top:490.5px;width:77.5px;height:15px;overflow:hidden"><div style="left:4px;top:1.5px;width:900px;height:15px;line-height:15px;font-size:10.7px;color:#000;text-align:left;white-space:pre;font-weight:400;letter-spacing:-0.3px">Codice</div></div><div style="left:920.5px;top:490.5px;width:165.0px;height:17px;background:#f0f0f0;border-top:1px solid #fff;border-left:1px solid #fff;border-right:2px solid #7c7c7c;border-bottom:2px solid #7c7c7c;box-shadow:inset -1px -1px 0 #b4b4b4"></div><div style="left:920.5px;top:490.5px;width:163.0px;height:15px;overflow:hidden"><div style="left:4.0px;top:1.5px;width:900px;height:15px;line-height:15px;font-size:10.7px;color:#000;text-align:left;white-space:pre;font-weight:400;letter-spacing:-0.3px">descrizione</div></div><div style="left:1085.5px;top:490.5px;width:60.0px;height:17px;background:#f0f0f0;border-top:1px solid #fff;border-left:1px solid #fff;border-right:2px solid #7c7c7c;border-bottom:2px solid #7c7c7c;box-shadow:inset -1px -1px 0 #b4b4b4"></div><div style="left:1085.5px;top:490.5px;width:58.0px;height:15px;overflow:hidden"><div style="left:4.0px;top:1.5px;width:900px;height:15px;line-height:15px;font-size:10.7px;color:#000;text-align:left;white-space:pre;font-weight:400;letter-spacing:-0.3px">Per.1-Qt</div></div><div style="left:1145.5px;top:490.5px;width:70.0px;height:17px;background:#f0f0f0;border-top:1px solid #fff;border-left:1px solid #fff;border-right:2px solid #7c7c7c;border-bottom:2px solid #7c7c7c;box-shadow:inset -1px -1px 0 #b4b4b4"></div><div style="left:1145.5px;top:490.5px;width:68.0px;height:15px;overflow:hidden"><div style="left:4.0px;top:1.5px;width:900px;height:15px;line-height:15px;font-size:10.7px;color:#000;text-align:left;white-space:pre;font-weight:400;letter-spacing:-0.3px">Per1-Val</div></div><div style="left:1215.5px;top:490.5px;width:60.0px;height:17px;background:#f0f0f0;border-top:1px solid #fff;border-left:1px solid #fff;border-right:2px solid #7c7c7c;border-bottom:2px solid #7c7c7c;box-shadow:inset -1px -1px 0 #b4b4b4"></div><div style="left:1215.5px;top:490.5px;width:58.0px;height:15px;overflow:hidden"><div style="left:4.0px;top:1.5px;width:900px;height:15px;line-height:15px;font-size:10.7px;color:#000;text-align:left;white-space:pre;font-weight:400;letter-spacing:-0.3px">Per.2-Qt</div></div><div style="left:1275.5px;top:490.5px;width:70.0px;height:17px;background:#f0f0f0;border-top:1px solid #fff;border-left:1px solid #fff;border-right:2px solid #7c7c7c;border-bottom:2px solid #7c7c7c;box-shadow:inset -1px -1px 0 #b4b4b4"></div><div style="left:1275.5px;top:490.5px;width:68.0px;height:15px;overflow:hidden"><div style="left:4.0px;top:1.5px;width:900px;height:15px;line-height:15px;font-size:10.7px;color:#000;text-align:left;white-space:pre;font-weight:400;letter-spacing:-0.3px">Per.2-Val</div></div><div style="left:1345.5px;top:490.5px;width:70.0px;height:17px;background:#f0f0f0;border-top:1px solid #fff;border-left:1px solid #fff;border-right:2px solid #7c7c7c;border-bottom:2px solid #7c7c7c;box-shadow:inset -1px -1px 0 #b4b4b4"></div><div style="left:1345.5px;top:490.5px;width:68.0px;height:15px;overflow:hidden"><div style="left:4.0px;top:1.5px;width:900px;height:15px;line-height:15px;font-size:10.7px;color:#000;text-align:left;white-space:pre;font-weight:400;letter-spacing:-0.3px">Diff.Val</div></div><div style="left:1415.5px;top:490.5px;width:15.0px;height:17px;background:#f0f0f0;border-top:1px solid #fff;border-left:1px solid #fff;border-right:2px solid #7c7c7c;border-bottom:2px solid #7c7c7c;box-shadow:inset -1px -1px 0 #b4b4b4"></div><div style="left:1415.5px;top:490.5px;width:13.0px;height:15px;overflow:hidden"><div style="left:4.0px;top:1.5px;width:900px;height:15px;line-height:15px;font-size:10.7px;color:#000;text-align:left;white-space:pre;font-weight:400;letter-spacing:-0.3px">%</div></div><div style="left:811.5px;top:507.5px;width:619.0px;height:18px;background:#0078d7"></div><div style="left:377.8px;top:510px;width:900px;height:15px;line-height:15px;font-size:10.7px;color:#fff;text-align:center;white-space:pre;font-weight:400;">1</div><div style="left:923.3px;top:510px;width:900px;height:15px;line-height:15px;font-size:10.7px;color:#fff;text-align:left;white-space:pre;font-weight:400;letter-spacing:-0.35px">Totale generale</div><div style="left:241.6px;top:510px;width:900px;height:15px;line-height:15px;font-size:10.7px;color:#fff;text-align:right;white-space:pre;font-weight:400;letter-spacing:-0.35px">710</div><div style="left:311.9px;top:510px;width:900px;height:15px;line-height:15px;font-size:10.7px;color:#fff;text-align:right;white-space:pre;font-weight:400;letter-spacing:-0.35px">91.508</div><div style="left:372px;top:510px;width:900px;height:15px;line-height:15px;font-size:10.7px;color:#fff;text-align:right;white-space:pre;font-weight:400;letter-spacing:-0.35px">23</div><div style="left:441.8px;top:510px;width:900px;height:15px;line-height:15px;font-size:10.7px;color:#fff;text-align:right;white-space:pre;font-weight:400;letter-spacing:-0.35px">24.319</div><div style="left:511.8px;top:510px;width:900px;height:15px;line-height:15px;font-size:10.7px;color:#fff;text-align:right;white-space:pre;font-weight:400;letter-spacing:-0.35px">67.188</div><div style="left:811.5px;top:525.5px;width:619.0px;height:18px;background:#fff"></div><div style="left:377.8px;top:528px;width:900px;height:15px;line-height:15px;font-size:10.7px;color:#1f1ff0;text-align:center;white-space:pre;font-weight:400;">2</div><div style="left:865.6px;top:528px;width:900px;height:15px;line-height:15px;font-size:10.7px;color:#1f1ff0;text-align:left;white-space:pre;font-weight:400;letter-spacing:-0.35px">00001</div><div style="left:923.3px;top:528px;width:900px;height:15px;line-height:15px;font-size:10.7px;color:#1f1ff0;text-align:left;white-space:pre;font-weight:400;letter-spacing:-0.35px">Rivenditori Autorizzati</div><div style="left:241.6px;top:528px;width:900px;height:15px;line-height:15px;font-size:10.7px;color:#1f1ff0;text-align:right;white-space:pre;font-weight:400;letter-spacing:-0.35px">100</div><div style="left:311.9px;top:528px;width:900px;height:15px;line-height:15px;font-size:10.7px;color:#1f1ff0;text-align:right;white-space:pre;font-weight:400;letter-spacing:-0.35px">77.122</div><div style="left:372px;top:528px;width:900px;height:15px;line-height:15px;font-size:10.7px;color:#1f1ff0;text-align:right;white-space:pre;font-weight:400;letter-spacing:-0.35px">5</div><div style="left:441.8px;top:528px;width:900px;height:15px;line-height:15px;font-size:10.7px;color:#1f1ff0;text-align:right;white-space:pre;font-weight:400;letter-spacing:-0.35px">17.378</div><div style="left:511.8px;top:528px;width:900px;height:15px;line-height:15px;font-size:10.7px;color:#1f1ff0;text-align:right;white-space:pre;font-weight:400;letter-spacing:-0.35px">59.744</div><div style="left:1416px;top:525.5px;width:14.5px;height:18px;overflow:hidden"><div style="left:6.3px;top:2.5px;width:900px;height:15px;line-height:15px;font-size:10.7px;color:#1f1ff0;text-align:left;white-space:pre;font-weight:400;">8</div></div><div style="left:811.5px;top:543.5px;width:619.0px;height:18px;background:#f2f2f2"></div><div style="left:377.8px;top:546px;width:900px;height:15px;line-height:15px;font-size:10.7px;color:#000;text-align:center;white-space:pre;font-weight:400;">3</div><div style="left:16.8px;top:546px;width:900px;height:15px;line-height:15px;font-size:10.7px;color:#000;text-align:right;white-space:pre;font-weight:400;letter-spacing:-0.35px">00108</div><div style="left:923.3px;top:546px;width:900px;height:15px;line-height:15px;font-size:10.7px;color:#000;text-align:left;white-space:pre;font-weight:400;letter-spacing:-0.35px">EASY COMPUTER SRL</div><div style="left:241.6px;top:546px;width:900px;height:15px;line-height:15px;font-size:10.7px;color:#000;text-align:right;white-space:pre;font-weight:400;letter-spacing:-0.35px">70</div><div style="left:311.9px;top:546px;width:900px;height:15px;line-height:15px;font-size:10.7px;color:#000;text-align:right;white-space:pre;font-weight:400;letter-spacing:-0.35px">55.405</div><div style="left:372px;top:546px;width:900px;height:15px;line-height:15px;font-size:10.7px;color:#000;text-align:right;white-space:pre;font-weight:400;letter-spacing:-0.35px">2</div><div style="left:441.8px;top:546px;width:900px;height:15px;line-height:15px;font-size:10.7px;color:#000;text-align:right;white-space:pre;font-weight:400;letter-spacing:-0.35px">3.800</div><div style="left:511.8px;top:546px;width:900px;height:15px;line-height:15px;font-size:10.7px;color:#000;text-align:right;white-space:pre;font-weight:400;letter-spacing:-0.35px">51.605</div><div style="left:1416px;top:543.5px;width:14.5px;height:18px;overflow:hidden"><div style="left:6.3px;top:2.5px;width:900px;height:15px;line-height:15px;font-size:10.7px;color:#000;text-align:left;white-space:pre;font-weight:400;">7</div></div><div style="left:811.5px;top:561.5px;width:619.0px;height:18px;background:#fff"></div><div style="left:377.8px;top:564px;width:900px;height:15px;line-height:15px;font-size:10.7px;color:#000;text-align:center;white-space:pre;font-weight:400;">4</div><div style="left:16.8px;top:564px;width:900px;height:15px;line-height:15px;font-size:10.7px;color:#000;text-align:right;white-space:pre;font-weight:400;letter-spacing:-0.35px">00119</div><div style="left:923.3px;top:564px;width:900px;height:15px;line-height:15px;font-size:10.7px;color:#000;text-align:left;white-space:pre;font-weight:400;letter-spacing:-0.35px">EASY SOFTWARE SRL</div><div style="left:241.6px;top:564px;width:900px;height:15px;line-height:15px;font-size:10.7px;color:#000;text-align:right;white-space:pre;font-weight:400;letter-spacing:-0.35px">30</div><div style="left:311.9px;top:564px;width:900px;height:15px;line-height:15px;font-size:10.7px;color:#000;text-align:right;white-space:pre;font-weight:400;letter-spacing:-0.35px">21.717</div><div style="left:511.8px;top:564px;width:900px;height:15px;line-height:15px;font-size:10.7px;color:#000;text-align:right;white-space:pre;font-weight:400;letter-spacing:-0.35px">21.717</div><div style="left:1416px;top:561.5px;width:14.5px;height:18px;overflow:hidden"><div style="left:6.3px;top:2.5px;width:900px;height:15px;line-height:15px;font-size:10.7px;color:#000;text-align:left;white-space:pre;font-weight:400;">2</div></div><div style="left:811.5px;top:579.5px;width:619.0px;height:18px;background:#f2f2f2"></div><div style="left:377.8px;top:582px;width:900px;height:15px;line-height:15px;font-size:10.7px;color:#000;text-align:center;white-space:pre;font-weight:400;">5</div><div style="left:16.8px;top:582px;width:900px;height:15px;line-height:15px;font-size:10.7px;color:#000;text-align:right;white-space:pre;font-weight:400;letter-spacing:-0.35px">00121</div><div style="left:923.3px;top:582px;width:900px;height:15px;line-height:15px;font-size:10.7px;color:#000;text-align:left;white-space:pre;font-weight:400;letter-spacing:-0.35px">BIANCOLIN ALFREDO SRL di Bl...</div><div style="left:372px;top:582px;width:900px;height:15px;line-height:15px;font-size:10.7px;color:#000;text-align:right;white-space:pre;font-weight:400;letter-spacing:-0.35px">3</div><div style="left:441.8px;top:582px;width:900px;height:15px;line-height:15px;font-size:10.7px;color:#000;text-align:right;white-space:pre;font-weight:400;letter-spacing:-0.35px">13.578</div><div style="left:511.8px;top:582px;width:900px;height:15px;line-height:15px;font-size:10.7px;color:#000;text-align:right;white-space:pre;font-weight:400;letter-spacing:-0.35px">-13.578</div><div style="left:811.5px;top:597.5px;width:619.0px;height:18px;background:#fff"></div><div style="left:377.8px;top:600px;width:900px;height:15px;line-height:15px;font-size:10.7px;color:#1f1ff0;text-align:center;white-space:pre;font-weight:400;">6</div><div style="left:865.6px;top:600px;width:900px;height:15px;line-height:15px;font-size:10.7px;color:#1f1ff0;text-align:left;white-space:pre;font-weight:400;letter-spacing:-0.35px">00002</div><div style="left:923.3px;top:600px;width:900px;height:15px;line-height:15px;font-size:10.7px;color:#1f1ff0;text-align:left;white-space:pre;font-weight:400;letter-spacing:-0.35px">Industria</div><div style="left:241.6px;top:600px;width:900px;height:15px;line-height:15px;font-size:10.7px;color:#1f1ff0;text-align:right;white-space:pre;font-weight:400;letter-spacing:-0.35px">180</div><div style="left:311.9px;top:600px;width:900px;height:15px;line-height:15px;font-size:10.7px;color:#1f1ff0;text-align:right;white-space:pre;font-weight:400;letter-spacing:-0.35px">13.249</div><div style="left:372px;top:600px;width:900px;height:15px;line-height:15px;font-size:10.7px;color:#1f1ff0;text-align:right;white-space:pre;font-weight:400;letter-spacing:-0.35px">17</div><div style="left:441.8px;top:600px;width:900px;height:15px;line-height:15px;font-size:10.7px;color:#1f1ff0;text-align:right;white-space:pre;font-weight:400;letter-spacing:-0.35px">6.656</div><div style="left:511.8px;top:600px;width:900px;height:15px;line-height:15px;font-size:10.7px;color:#1f1ff0;text-align:right;white-space:pre;font-weight:400;letter-spacing:-0.35px">6.593</div><div style="left:1416px;top:597.5px;width:14.5px;height:18px;overflow:hidden"><div style="left:6.3px;top:2.5px;width:900px;height:15px;line-height:15px;font-size:10.7px;color:#1f1ff0;text-align:left;white-space:pre;font-weight:400;">1</div></div><div style="left:811.5px;top:615.5px;width:619.0px;height:18px;background:#f2f2f2"></div><div style="left:377.8px;top:618px;width:900px;height:15px;line-height:15px;font-size:10.7px;color:#000;text-align:center;white-space:pre;font-weight:400;">7</div><div style="left:16.8px;top:618px;width:900px;height:15px;line-height:15px;font-size:10.7px;color:#000;text-align:right;white-space:pre;font-weight:400;letter-spacing:-0.35px">00105</div><div style="left:923.3px;top:618px;width:900px;height:15px;line-height:15px;font-size:10.7px;color:#000;text-align:left;white-space:pre;font-weight:400;letter-spacing:-0.35px">ZANUSSI ELETTROIMPIANTI SPA</div><div style="left:241.6px;top:618px;width:900px;height:15px;line-height:15px;font-size:10.7px;color:#000;text-align:right;white-space:pre;font-weight:400;letter-spacing:-0.35px">17</div><div style="left:311.9px;top:618px;width:900px;height:15px;line-height:15px;font-size:10.7px;color:#000;text-align:right;white-space:pre;font-weight:400;letter-spacing:-0.35px">4.341</div><div style="left:372px;top:618px;width:900px;height:15px;line-height:15px;font-size:10.7px;color:#000;text-align:right;white-space:pre;font-weight:400;letter-spacing:-0.35px">12</div><div style="left:441.8px;top:618px;width:900px;height:15px;line-height:15px;font-size:10.7px;color:#000;text-align:right;white-space:pre;font-weight:400;letter-spacing:-0.35px">4.127</div><div style="left:511.8px;top:618px;width:900px;height:15px;line-height:15px;font-size:10.7px;color:#000;text-align:right;white-space:pre;font-weight:400;letter-spacing:-0.35px">213</div><div style="left:1416px;top:615.5px;width:14.5px;height:18px;overflow:hidden"><div style="left:6.3px;top:2.5px;width:900px;height:15px;line-height:15px;font-size:10.7px;color:#000;text-align:left;white-space:pre;font-weight:400;">3</div></div><div style="left:811.5px;top:633.5px;width:619.0px;height:18px;background:#fff"></div><div style="left:377.8px;top:636px;width:900px;height:15px;line-height:15px;font-size:10.7px;color:#000;text-align:center;white-space:pre;font-weight:400;">8</div><div style="left:16.8px;top:636px;width:900px;height:15px;line-height:15px;font-size:10.7px;color:#000;text-align:right;white-space:pre;font-weight:400;letter-spacing:-0.35px">00123</div><div style="left:923.3px;top:636px;width:900px;height:15px;line-height:15px;font-size:10.7px;color:#000;text-align:left;white-space:pre;font-weight:400;letter-spacing:-0.35px">ZANUSSI TECNOELETTRICA SNC</div><div style="left:241.6px;top:636px;width:900px;height:15px;line-height:15px;font-size:10.7px;color:#000;text-align:right;white-space:pre;font-weight:400;letter-spacing:-0.35px">163</div><div style="left:311.9px;top:636px;width:900px;height:15px;line-height:15px;font-size:10.7px;color:#000;text-align:right;white-space:pre;font-weight:400;letter-spacing:-0.35px">8.908</div><div style="left:372px;top:636px;width:900px;height:15px;line-height:15px;font-size:10.7px;color:#000;text-align:right;white-space:pre;font-weight:400;letter-spacing:-0.35px">5</div><div style="left:441.8px;top:636px;width:900px;height:15px;line-height:15px;font-size:10.7px;color:#000;text-align:right;white-space:pre;font-weight:400;letter-spacing:-0.35px">2.528</div><div style="left:511.8px;top:636px;width:900px;height:15px;line-height:15px;font-size:10.7px;color:#000;text-align:right;white-space:pre;font-weight:400;letter-spacing:-0.35px">6.379</div><div style="left:1416px;top:633.5px;width:14.5px;height:18px;overflow:hidden"><div style="left:6.3px;top:2.5px;width:900px;height:15px;line-height:15px;font-size:10.7px;color:#000;text-align:left;white-space:pre;font-weight:400;">6</div></div><div style="left:811.5px;top:651.5px;width:619.0px;height:18px;background:#f2f2f2"></div><div style="left:377.8px;top:654px;width:900px;height:15px;line-height:15px;font-size:10.7px;color:#1f1ff0;text-align:center;white-space:pre;font-weight:400;">9</div><div style="left:865.6px;top:654px;width:900px;height:15px;line-height:15px;font-size:10.7px;color:#1f1ff0;text-align:left;white-space:pre;font-weight:400;letter-spacing:-0.35px">00003</div><div style="left:923.3px;top:654px;width:900px;height:15px;line-height:15px;font-size:10.7px;color:#1f1ff0;text-align:left;white-space:pre;font-weight:400;letter-spacing:-0.35px">Artigiani</div><div style="left:241.6px;top:654px;width:900px;height:15px;line-height:15px;font-size:10.7px;color:#1f1ff0;text-align:right;white-space:pre;font-weight:400;letter-spacing:-0.35px">100</div><div style="left:311.9px;top:654px;width:900px;height:15px;line-height:15px;font-size:10.7px;color:#1f1ff0;text-align:right;white-space:pre;font-weight:400;letter-spacing:-0.35px">500</div><div style="left:511.8px;top:654px;width:900px;height:15px;line-height:15px;font-size:10.7px;color:#1f1ff0;text-align:right;white-space:pre;font-weight:400;letter-spacing:-0.35px">500</div><div style="left:811.5px;top:669.5px;width:619.0px;height:18px;background:#fff"></div><div style="left:377.8px;top:672px;width:900px;height:15px;line-height:15px;font-size:10.7px;color:#000;text-align:center;white-space:pre;font-weight:400;">10</div><div style="left:16.8px;top:672px;width:900px;height:15px;line-height:15px;font-size:10.7px;color:#000;text-align:right;white-space:pre;font-weight:400;letter-spacing:-0.35px">00120</div><div style="left:923.3px;top:672px;width:900px;height:15px;line-height:15px;font-size:10.7px;color:#000;text-align:left;white-space:pre;font-weight:400;letter-spacing:-0.35px">BIANCHETTIN LUDOVICO</div><div style="left:241.6px;top:672px;width:900px;height:15px;line-height:15px;font-size:10.7px;color:#000;text-align:right;white-space:pre;font-weight:400;letter-spacing:-0.35px">100</div><div style="left:311.9px;top:672px;width:900px;height:15px;line-height:15px;font-size:10.7px;color:#000;text-align:right;white-space:pre;font-weight:400;letter-spacing:-0.35px">500</div><div style="left:511.8px;top:672px;width:900px;height:15px;line-height:15px;font-size:10.7px;color:#000;text-align:right;white-space:pre;font-weight:400;letter-spacing:-0.35px">500</div><div style="left:1416px;top:669.5px;width:14.5px;height:18px;overflow:hidden"><div style="left:2.8px;top:2.5px;width:900px;height:15px;line-height:15px;font-size:10.7px;color:#000;text-align:left;white-space:pre;font-weight:400;">10</div></div><div style="left:811.5px;top:687.5px;width:619.0px;height:18px;background:#f2f2f2"></div><div style="left:377.8px;top:690px;width:900px;height:15px;line-height:15px;font-size:10.7px;color:#1f1ff0;text-align:center;white-space:pre;font-weight:400;">11</div><div style="left:865.6px;top:690px;width:900px;height:15px;line-height:15px;font-size:10.7px;color:#1f1ff0;text-align:left;white-space:pre;font-weight:400;letter-spacing:-0.35px">00005</div><div style="left:923.3px;top:690px;width:900px;height:15px;line-height:15px;font-size:10.7px;color:#1f1ff0;text-align:left;white-space:pre;font-weight:400;letter-spacing:-0.35px">Commercio Dettaglio</div><div style="left:241.6px;top:690px;width:900px;height:15px;line-height:15px;font-size:10.7px;color:#1f1ff0;text-align:right;white-space:pre;font-weight:400;letter-spacing:-0.35px">330</div><div style="left:311.9px;top:690px;width:900px;height:15px;line-height:15px;font-size:10.7px;color:#1f1ff0;text-align:right;white-space:pre;font-weight:400;letter-spacing:-0.35px">636</div><div style="left:372px;top:690px;width:900px;height:15px;line-height:15px;font-size:10.7px;color:#1f1ff0;text-align:right;white-space:pre;font-weight:400;letter-spacing:-0.35px">1</div><div style="left:441.8px;top:690px;width:900px;height:15px;line-height:15px;font-size:10.7px;color:#1f1ff0;text-align:right;white-space:pre;font-weight:400;letter-spacing:-0.35px">285</div><div style="left:511.8px;top:690px;width:900px;height:15px;line-height:15px;font-size:10.7px;color:#1f1ff0;text-align:right;white-space:pre;font-weight:400;letter-spacing:-0.35px">351</div><div style="left:811.5px;top:705.5px;width:619.0px;height:18px;background:#fff"></div><div style="left:377.8px;top:708px;width:900px;height:15px;line-height:15px;font-size:10.7px;color:#000;text-align:center;white-space:pre;font-weight:400;">12</div><div style="left:16.8px;top:708px;width:900px;height:15px;line-height:15px;font-size:10.7px;color:#000;text-align:right;white-space:pre;font-weight:400;letter-spacing:-0.35px">00100</div><div style="left:923.3px;top:708px;width:900px;height:15px;line-height:15px;font-size:10.7px;color:#000;text-align:left;white-space:pre;font-weight:400;letter-spacing:-0.35px">DE FRANCESCHI MARIO &amp; C. S...</div><div style="left:372px;top:708px;width:900px;height:15px;line-height:15px;font-size:10.7px;color:#000;text-align:right;white-space:pre;font-weight:400;letter-spacing:-0.35px">1</div><div style="left:441.8px;top:708px;width:900px;height:15px;line-height:15px;font-size:10.7px;color:#000;text-align:right;white-space:pre;font-weight:400;letter-spacing:-0.35px">285</div><div style="left:511.8px;top:708px;width:900px;height:15px;line-height:15px;font-size:10.7px;color:#000;text-align:right;white-space:pre;font-weight:400;letter-spacing:-0.35px">-285</div><div style="left:811.5px;top:723.5px;width:619.0px;height:18px;background:#f2f2f2"></div><div style="left:377.8px;top:726px;width:900px;height:15px;line-height:15px;font-size:10.7px;color:#000;text-align:center;white-space:pre;font-weight:400;">13</div><div style="left:16.8px;top:726px;width:900px;height:15px;line-height:15px;font-size:10.7px;color:#000;text-align:right;white-space:pre;font-weight:400;letter-spacing:-0.35px">00124</div><div style="left:923.3px;top:726px;width:900px;height:15px;line-height:15px;font-size:10.7px;color:#000;text-align:left;white-space:pre;font-weight:400;letter-spacing:-0.35px">REPSOL S.A.</div><div style="left:241.6px;top:726px;width:900px;height:15px;line-height:15px;font-size:10.7px;color:#000;text-align:right;white-space:pre;font-weight:400;letter-spacing:-0.35px">330</div><div style="left:311.9px;top:726px;width:900px;height:15px;line-height:15px;font-size:10.7px;color:#000;text-align:right;white-space:pre;font-weight:400;letter-spacing:-0.35px">636</div><div style="left:511.8px;top:726px;width:900px;height:15px;line-height:15px;font-size:10.7px;color:#000;text-align:right;white-space:pre;font-weight:400;letter-spacing:-0.35px">636</div><div style="left:1416px;top:723.5px;width:14.5px;height:18px;overflow:hidden"><div style="left:2.8px;top:2.5px;width:900px;height:15px;line-height:15px;font-size:10.7px;color:#000;text-align:left;white-space:pre;font-weight:400;">10</div></div><div style="left:841px;top:507.5px;width:79.5px;height:234.5px;border:1px solid #8c8c8c"></div><div style="left:851px;top:516.5px;width:12px;height:1px;background-image:repeating-linear-gradient(90deg,#d8d8d8 0 1px,transparent 1px 2px)"></div><div style="left:851px;top:516.5px;width:1px;height:8px;background-image:repeating-linear-gradient(180deg,#d8d8d8 0 1px,transparent 1px 2px)"></div><div style="left:863px;top:509px;width:12px;height:15px;border:1px dotted #f39a3a"></div><div style="left:851px;top:525.5px;width:1px;height:182px;background-image:repeating-linear-gradient(180deg,#8a8a8a 0 1px,transparent 1px 2px)"></div><div style="left:847px;top:530.0px;width:9px;height:9px;background:#fff;border:1px solid #919191"></div><div style="left:849px;top:534.0px;width:5px;height:1px;background:#000"></div><div style="left:857px;top:534.5px;width:8px;height:1px;background-image:repeating-linear-gradient(90deg,#8a8a8a 0 1px,transparent 1px 2px)"></div><div style="left:873.5px;top:538.5px;width:1px;height:50.0px;background-image:repeating-linear-gradient(180deg,#8a8a8a 0 1px,transparent 1px 2px)"></div><div style="left:874.5px;top:552.5px;width:19px;height:1px;background-image:repeating-linear-gradient(90deg,#8a8a8a 0 1px,transparent 1px 2px)"></div><div style="left:874.5px;top:570.5px;width:19px;height:1px;background-image:repeating-linear-gradient(90deg,#8a8a8a 0 1px,transparent 1px 2px)"></div><div style="left:874.5px;top:588.5px;width:19px;height:1px;background-image:repeating-linear-gradient(90deg,#8a8a8a 0 1px,transparent 1px 2px)"></div><div style="left:847px;top:602.0px;width:9px;height:9px;background:#fff;border:1px solid #919191"></div><div style="left:849px;top:606.0px;width:5px;height:1px;background:#000"></div><div style="left:857px;top:606.5px;width:8px;height:1px;background-image:repeating-linear-gradient(90deg,#8a8a8a 0 1px,transparent 1px 2px)"></div><div style="left:873.5px;top:610.5px;width:1px;height:32.0px;background-image:repeating-linear-gradient(180deg,#8a8a8a 0 1px,transparent 1px 2px)"></div><div style="left:874.5px;top:624.5px;width:19px;height:1px;background-image:repeating-linear-gradient(90deg,#8a8a8a 0 1px,transparent 1px 2px)"></div><div style="left:874.5px;top:642.5px;width:19px;height:1px;background-image:repeating-linear-gradient(90deg,#8a8a8a 0 1px,transparent 1px 2px)"></div><div style="left:847px;top:656.0px;width:9px;height:9px;background:#fff;border:1px solid #919191"></div><div style="left:849px;top:660.0px;width:5px;height:1px;background:#000"></div><div style="left:857px;top:660.5px;width:8px;height:1px;background-image:repeating-linear-gradient(90deg,#8a8a8a 0 1px,transparent 1px 2px)"></div><div style="left:873.5px;top:664.5px;width:1px;height:14.0px;background-image:repeating-linear-gradient(180deg,#8a8a8a 0 1px,transparent 1px 2px)"></div><div style="left:874.5px;top:678.5px;width:19px;height:1px;background-image:repeating-linear-gradient(90deg,#8a8a8a 0 1px,transparent 1px 2px)"></div><div style="left:847px;top:692.0px;width:9px;height:9px;background:#fff;border:1px solid #919191"></div><div style="left:849px;top:696.0px;width:5px;height:1px;background:#000"></div><div style="left:857px;top:696.5px;width:8px;height:1px;background-image:repeating-linear-gradient(90deg,#8a8a8a 0 1px,transparent 1px 2px)"></div><div style="left:873.5px;top:700.5px;width:1px;height:32.0px;background-image:repeating-linear-gradient(180deg,#8a8a8a 0 1px,transparent 1px 2px)"></div><div style="left:874.5px;top:714.5px;width:19px;height:1px;background-image:repeating-linear-gradient(90deg,#8a8a8a 0 1px,transparent 1px 2px)"></div><div style="left:874.5px;top:732.5px;width:19px;height:1px;background-image:repeating-linear-gradient(90deg,#8a8a8a 0 1px,transparent 1px 2px)"></div><div style="left:811.5px;top:834px;width:619.0px;height:16px;background:#f0f0f0"></div><div style="left:828px;top:835px;width:346px;height:14px;background:#c9c9c9"></div><svg style="left:817.5px;top:838.0px" width="6" height="8"><path d="M4.8,0.8 L1.5,4 L4.8,7.2" fill="none" stroke="#505050" stroke-width="2"/></svg><svg style="left:1418.5px;top:838.0px" width="6" height="8"><path d="M1.2,0.8 L4.5,4 L1.2,7.2" fill="none" stroke="#505050" stroke-width="2"/></svg><div style="left:413px;top:590px;width:393px;height:264px;background:#e6e6f4"></div><svg style="left:413px;top:590px" width="393" height="264" viewBox="0 0 393 264"><filter id="nz" x="0" y="0" width="100%" height="100%"><feTurbulence type="fractalNoise" baseFrequency="0.9" numOctaves="2" seed="7"/><feColorMatrix type="matrix" values="0 0 0 0 1  0 0 0 0 1  0 0 0 0 1  3.2 0 0 0 -1.75"/></filter><rect width="393" height="264" filter="url(#nz)" opacity="1"/><filter id="nz2" x="0" y="0" width="100%" height="100%"><feTurbulence type="fractalNoise" baseFrequency="0.8" numOctaves="1" seed="3"/><feColorMatrix type="matrix" values="0 0 0 0 0.55  0 0 0 0 0.55  0 0 0 0 0.85  0 0 3.0 0 -1.9"/></filter><rect width="393" height="264" filter="url(#nz2)" opacity="0.8"/></svg><div style="left:535px;top:591px;width:24.5px;height:10.8px;background:linear-gradient(180deg,#6a0000 0%,#8a2a2a 14%,#c9a3a3 32%,#ebe6e6 50%,#c9a3a3 68%,#8a2a2a 86%,#6a0000 100%);border-right:2px solid #222;border-bottom:1px solid #222"></div><div style="left:693px;top:591px;width:24.5px;height:10.8px;background:linear-gradient(180deg,#006464 0%,#2a8080 14%,#9fc7c7 32%,#e4eeee 50%,#9fc7c7 68%,#2a8080 86%,#006464 100%);border-right:2px solid #222;border-bottom:1px solid #222"></div><div style="left:96.4px;top:604px;width:900px;height:15px;line-height:15px;font-size:11px;color:#000;text-align:center;white-space:pre;font-weight:400;">Per.1</div><div style="left:254.6px;top:604px;width:900px;height:15px;line-height:15px;font-size:11px;color:#000;text-align:center;white-space:pre;font-weight:400;">Per.2</div><div style="left:18.0px;top:633px;width:900px;height:9px;line-height:9px;font-size:6.6px;color:#333344;text-align:center;white-space:pre;font-weight:400;letter-spacing:0.15px">0</div><div style="left:57.0px;top:633px;width:900px;height:9px;line-height:9px;font-size:6.6px;color:#333344;text-align:center;white-space:pre;font-weight:400;letter-spacing:0.15px">10000</div><div style="left:96.0px;top:633px;width:900px;height:9px;line-height:9px;font-size:6.6px;color:#333344;text-align:center;white-space:pre;font-weight:400;letter-spacing:0.15px">20000</div><div style="left:135.0px;top:633px;width:900px;height:9px;line-height:9px;font-size:6.6px;color:#333344;text-align:center;white-space:pre;font-weight:400;letter-spacing:0.15px">30000</div><div style="left:174.0px;top:633px;width:900px;height:9px;line-height:9px;font-size:6.6px;color:#333344;text-align:center;white-space:pre;font-weight:400;letter-spacing:0.15px">40000</div><div style="left:213.0px;top:633px;width:900px;height:9px;line-height:9px;font-size:6.6px;color:#333344;text-align:center;white-space:pre;font-weight:400;letter-spacing:0.15px">50000</div><div style="left:252.0px;top:633px;width:900px;height:9px;line-height:9px;font-size:6.6px;color:#333344;text-align:center;white-space:pre;font-weight:400;letter-spacing:0.15px">60000</div><div style="left:291.0px;top:633px;width:900px;height:9px;line-height:9px;font-size:6.6px;color:#333344;text-align:center;white-space:pre;font-weight:400;letter-spacing:0.15px">70000</div><div style="left:330.0px;top:633px;width:900px;height:9px;line-height:9px;font-size:6.6px;color:#333344;text-align:center;white-space:pre;font-weight:400;letter-spacing:0.15px">80000</div><div style="left:467.5px;top:642px;width:1.6px;height:212px;background:#000"></div><div style="left:506.5px;top:642px;width:1.3px;height:212px;background:#000"></div><div style="left:545.5px;top:642px;width:1.3px;height:212px;background:#000"></div><div style="left:584.5px;top:642px;width:1.3px;height:212px;background:#000"></div><div style="left:623.5px;top:642px;width:1.3px;height:212px;background:#000"></div><div style="left:662.5px;top:642px;width:1.3px;height:212px;background:#000"></div><div style="left:701.5px;top:642px;width:1.3px;height:212px;background:#000"></div><div style="left:740.5px;top:642px;width:1.3px;height:212px;background:#000"></div><div style="left:779.5px;top:642px;width:1.3px;height:212px;background:#000"></div><div style="left:783.5px;top:648px;width:1.6px;height:206px;background:#000"></div><div style="left:468px;top:647.8px;width:316px;height:1.8px;background:#000"></div><div style="left:475.3px;top:649px;width:1.2px;height:6.7px;background:#000"></div><div style="left:483.1px;top:649px;width:1.2px;height:6.7px;background:#000"></div><div style="left:490.9px;top:649px;width:1.2px;height:6.7px;background:#000"></div><div style="left:498.7px;top:649px;width:1.2px;height:6.7px;background:#000"></div><div style="left:514.3px;top:649px;width:1.2px;height:6.7px;background:#000"></div><div style="left:522.1px;top:649px;width:1.2px;height:6.7px;background:#000"></div><div style="left:529.9px;top:649px;width:1.2px;height:6.7px;background:#000"></div><div style="left:537.7px;top:649px;width:1.2px;height:6.7px;background:#000"></div><div style="left:553.3px;top:649px;width:1.2px;height:6.7px;background:#000"></div><div style="left:561.1px;top:649px;width:1.2px;height:6.7px;background:#000"></div><div style="left:568.9px;top:649px;width:1.2px;height:6.7px;background:#000"></div><div style="left:576.7px;top:649px;width:1.2px;height:6.7px;background:#000"></div><div style="left:592.3px;top:649px;width:1.2px;height:6.7px;background:#000"></div><div style="left:600.1px;top:649px;width:1.2px;height:6.7px;background:#000"></div><div style="left:607.9px;top:649px;width:1.2px;height:6.7px;background:#000"></div><div style="left:615.7px;top:649px;width:1.2px;height:6.7px;background:#000"></div><div style="left:631.3px;top:649px;width:1.2px;height:6.7px;background:#000"></div><div style="left:639.1px;top:649px;width:1.2px;height:6.7px;background:#000"></div><div style="left:646.9px;top:649px;width:1.2px;height:6.7px;background:#000"></div><div style="left:654.7px;top:649px;width:1.2px;height:6.7px;background:#000"></div><div style="left:670.3px;top:649px;width:1.2px;height:6.7px;background:#000"></div><div style="left:678.1px;top:649px;width:1.2px;height:6.7px;background:#000"></div><div style="left:685.9px;top:649px;width:1.2px;height:6.7px;background:#000"></div><div style="left:693.7px;top:649px;width:1.2px;height:6.7px;background:#000"></div><div style="left:709.3px;top:649px;width:1.2px;height:6.7px;background:#000"></div><div style="left:717.1px;top:649px;width:1.2px;height:6.7px;background:#000"></div><div style="left:724.9px;top:649px;width:1.2px;height:6.7px;background:#000"></div><div style="left:732.7px;top:649px;width:1.2px;height:6.7px;background:#000"></div><div style="left:748.3px;top:649px;width:1.2px;height:6.7px;background:#000"></div><div style="left:756.1px;top:649px;width:1.2px;height:6.7px;background:#000"></div><div style="left:763.9px;top:649px;width:1.2px;height:6.7px;background:#000"></div><div style="left:771.7px;top:649px;width:1.2px;height:6.7px;background:#000"></div><div style="left:468px;top:661px;width:302px;height:35.299999999999955px;background:linear-gradient(180deg,#6a0000 0%,#8a2a2a 14%,#c9a3a3 32%,#ebe6e6 50%,#c9a3a3 68%,#8a2a2a 86%,#6a0000 100%);border-right:1px solid #111"></div><div style="left:468px;top:696.3px;width:67.5px;height:35.0px;background:linear-gradient(180deg,#006464 0%,#2a8080 14%,#9fc7c7 32%,#e4eeee 50%,#9fc7c7 68%,#2a8080 86%,#006464 100%);border-right:1px solid #111"></div><div style="left:468px;top:758px;width:51.5px;height:35.200000000000045px;background:linear-gradient(180deg,#6a0000 0%,#8a2a2a 14%,#c9a3a3 32%,#ebe6e6 50%,#c9a3a3 68%,#8a2a2a 86%,#6a0000 100%);border-right:1px solid #111"></div><div style="left:468px;top:793.2px;width:25.5px;height:36.09999999999991px;background:linear-gradient(180deg,#006464 0%,#2a8080 14%,#9fc7c7 32%,#e4eeee 50%,#9fc7c7 68%,#2a8080 86%,#006464 100%);border-right:1px solid #111"></div><div style="left:462px;top:695.8px;width:6px;height:1.2px;background:#000"></div><div style="left:462px;top:793.8px;width:6px;height:1.2px;background:#000"></div><div style="left:-439.5px;top:690px;width:900px;height:15px;line-height:15px;font-size:10.4px;color:#000;text-align:right;white-space:pre;font-weight:400;">00001</div><div style="left:-439.5px;top:787px;width:900px;height:15px;line-height:15px;font-size:10.4px;color:#000;text-align:right;white-space:pre;font-weight:400;">00002</div>
</body></html>
